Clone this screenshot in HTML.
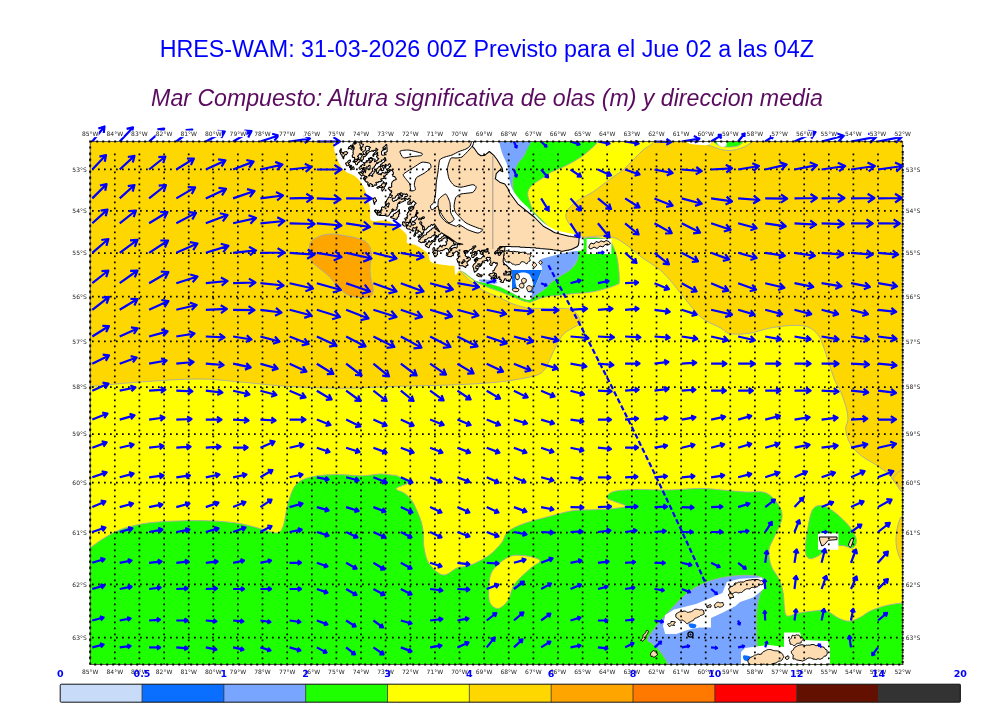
<!DOCTYPE html><html><head><meta charset="utf-8"><style>html,body{margin:0;padding:0;background:#fff;}svg{display:block}</style></head><body>
<svg width="1000" height="707" viewBox="0 0 1000 707">
<rect width="1000" height="707" fill="#fff"/>
<text x="486.8" y="56.6" text-anchor="middle" font-family="Liberation Sans, sans-serif" font-size="23.3" fill="#0000ff">HRES-WAM: 31-03-2026 00Z Previsto para el Jue 02 a las 04Z</text>
<text x="487" y="105.8" text-anchor="middle" font-family="Liberation Sans, sans-serif" font-style="italic" font-size="23.15" fill="#5a0a5f">Mar Compuesto: Altura significativa de olas (m) y direccion media</text>
<defs><clipPath id="mc"><rect x="90.2" y="141.5" width="812.5" height="523.0"/></clipPath></defs>
<g clip-path="url(#mc)">
<rect x="90.2" y="141.5" width="812.5" height="523.0" fill="#ffd700"/>
<path d="M310.5,242.4 C312.1,240.0 315.6,237.9 319.0,236.5 C322.4,235.1 326.8,234.2 331.0,234.0 C335.2,233.8 339.7,234.8 344.5,235.6 C349.3,236.4 355.9,237.6 359.8,239.0 C363.8,240.4 366.2,241.5 368.2,244.1 C370.2,246.7 371.3,250.3 371.6,254.3 C371.9,258.3 370.1,263.9 370.0,267.9 C369.9,271.8 370.2,274.3 370.8,278.0 C371.4,281.7 373.4,286.9 373.3,290.0 C373.2,293.1 372.0,295.4 370.0,296.7 C368.0,298.0 365.2,297.9 361.5,297.6 C357.8,297.3 351.9,296.9 347.9,295.0 C343.9,293.1 340.8,289.6 337.7,286.5 C334.6,283.4 332.3,279.5 329.2,276.4 C326.1,273.3 322.0,270.4 319.0,267.9 C316.0,265.3 312.9,263.9 311.4,261.1 C309.8,258.3 309.8,254.0 309.7,250.9 C309.6,247.8 308.9,244.8 310.5,242.4Z" fill="#ffa500" stroke="#a8a8a8" stroke-width="0.9"/>
<path d="M70.0,386.3 C73.4,337.4 78.5,387.0 90.2,386.3 C101.9,385.6 122.0,383.2 140.0,382.0 C158.0,380.8 181.2,379.0 198.0,379.0 C214.8,379.0 226.4,380.8 240.6,382.0 C254.8,383.2 266.4,384.9 283.0,386.0 C299.6,387.1 321.1,388.2 340.0,388.3 C358.9,388.4 377.8,386.9 396.6,386.3 C415.4,385.7 436.0,385.6 453.0,384.9 C470.0,384.2 485.2,383.4 498.4,382.0 C511.6,380.6 524.8,378.3 532.4,376.4 C540.0,374.5 540.9,373.3 543.7,370.7 C546.5,368.1 547.4,364.6 549.3,360.8 C551.2,357.0 552.6,352.5 555.0,348.0 C557.4,343.5 560.2,337.5 563.5,334.0 C566.8,330.5 572.0,328.8 574.8,326.9 C577.6,325.0 580.1,324.8 580.5,322.6 C580.9,320.5 578.9,316.3 577.0,314.0 C575.1,311.7 571.8,309.9 569.0,309.0 C566.2,308.1 565.5,308.5 560.0,308.4 C554.5,308.3 542.0,308.6 536.0,308.4 C530.0,308.2 528.0,308.0 524.0,307.2 C520.0,306.4 516.0,305.2 512.0,303.6 C508.0,302.0 504.0,299.4 500.0,297.6 C496.0,295.8 492.0,294.8 488.0,292.8 C484.0,290.8 480.5,289.1 476.0,285.6 C471.5,282.1 465.3,276.4 461.0,271.8 C456.7,267.2 453.5,263.3 450.0,258.0 C446.5,252.7 436.7,249.7 440.0,240.0 C443.3,230.3 461.7,215.0 470.0,200.0 C478.3,185.0 485.8,162.5 490.0,150.0 C494.2,137.5 470.0,129.2 495.0,125.0 C520.0,120.8 613.7,122.3 640.0,125.0 C666.3,127.7 652.5,136.8 653.0,141.0 C653.5,145.2 646.3,146.9 643.0,150.0 C639.7,153.1 636.5,156.5 633.2,159.8 C629.9,163.1 627.3,166.4 623.3,169.7 C619.3,173.0 614.3,176.0 609.4,179.6 C604.5,183.2 598.5,188.2 593.6,191.5 C588.7,194.8 583.7,196.8 579.7,199.4 C575.7,202.0 572.1,204.7 569.8,207.3 C567.5,209.9 566.0,212.5 565.8,215.2 C565.6,217.8 567.1,220.5 568.8,223.2 C570.4,225.8 573.5,228.8 575.7,231.1 C577.9,233.4 578.0,236.2 582.0,237.0 C586.0,237.8 595.4,236.0 600.0,236.0 C604.6,236.0 606.5,236.5 609.4,237.0 C612.3,237.5 614.0,237.3 617.3,239.0 C620.6,240.7 625.2,244.0 629.2,247.0 C633.2,250.0 637.0,253.8 641.0,256.8 C645.0,259.8 649.7,262.5 653.0,264.8 C656.3,267.1 658.4,268.4 661.0,270.7 C663.6,273.0 665.6,275.0 668.8,278.6 C672.0,282.2 675.6,287.0 680.0,292.4 C684.4,297.8 690.9,306.4 695.0,311.0 C699.1,315.6 700.5,317.1 704.8,320.0 C709.1,322.9 717.0,325.9 721.0,328.1 C725.0,330.4 724.6,332.6 729.1,333.5 C733.6,334.4 741.2,334.4 748.0,333.5 C754.8,332.6 762.4,329.5 769.6,328.1 C776.8,326.8 784.9,325.6 791.2,325.4 C797.5,325.2 802.9,325.2 807.4,326.8 C811.9,328.4 815.5,331.5 818.2,334.9 C820.9,338.3 821.8,342.3 823.6,347.0 C825.4,351.7 827.2,357.8 829.0,363.2 C830.8,368.6 832.4,374.4 834.4,379.4 C836.4,384.3 839.2,387.9 841.2,392.9 C843.2,397.8 845.5,404.6 846.6,409.1 C847.7,413.6 848.0,416.8 847.9,419.9 C847.8,423.0 845.7,424.9 845.7,428.0 C845.7,431.1 846.6,435.4 847.9,438.8 C849.2,442.2 850.6,445.1 853.3,448.2 C856.0,451.3 860.0,454.8 864.1,457.7 C868.2,460.6 873.6,463.1 877.6,465.8 C881.6,468.5 885.2,470.8 888.4,473.9 C891.5,477.0 894.1,481.5 896.5,484.7 C898.9,487.9 899.9,491.1 903.0,492.8 C906.1,494.5 913.0,463.8 915.0,495.0 C917.0,526.2 1055.8,649.2 915.0,680.0 C774.2,710.8 210.8,729.0 70.0,680.0 C-70.8,631.0 66.6,435.2 70.0,386.3Z" fill="#ffff00" stroke="#a8a8a8" stroke-width="0.9"/>
<path d="M903.0,517.0 C900.7,514.5 899.2,521.2 898.0,525.0 C896.8,528.8 896.0,535.3 896.0,540.0 C896.0,544.7 896.8,549.7 898.0,553.0 C899.2,556.3 900.7,562.2 903.0,560.0 C905.3,557.8 912.0,547.2 912.0,540.0 C912.0,532.8 905.3,519.5 903.0,517.0Z" fill="#ffd700" stroke="#a8a8a8" stroke-width="0.9"/>
<path d="M893.0,478.0 C892.0,480.2 895.3,481.3 897.0,483.0 C898.7,484.7 902.0,490.2 903.0,488.0 C904.0,485.8 904.7,471.7 903.0,470.0 C901.3,468.3 894.0,475.8 893.0,478.0Z" fill="#ffd700" stroke="#a8a8a8" stroke-width="0.9"/>
<path d="M70.0,560.0 C73.4,537.9 84.5,551.2 90.2,547.6 C95.9,544.0 98.5,541.4 103.9,538.2 C109.3,535.1 115.5,531.2 122.8,528.7 C130.2,526.2 138.6,524.3 148.0,523.0 C157.4,521.7 169.0,521.2 179.5,520.9 C190.0,520.5 201.6,520.5 211.0,520.9 C220.4,521.2 228.9,522.0 236.2,523.0 C243.5,524.0 249.2,525.7 255.0,527.2 C260.8,528.7 266.9,531.0 270.8,531.9 C274.8,532.8 276.6,533.5 278.7,532.5 C280.8,531.5 281.8,530.4 283.4,525.6 C285.0,520.8 286.0,510.3 288.1,503.5 C290.2,496.7 292.1,489.1 296.0,484.6 C299.9,480.2 305.0,478.5 311.8,476.8 C318.6,475.1 328.6,474.8 337.0,474.6 C345.4,474.4 355.0,475.9 362.2,475.8 C369.4,475.7 374.9,474.1 380.0,474.0 C385.1,473.9 389.7,474.9 392.6,475.2 C395.5,475.5 394.8,474.8 397.4,476.0 C400.0,477.2 408.4,480.4 408.2,482.5 C408.0,484.6 396.8,486.7 396.2,488.5 C395.6,490.3 402.0,491.3 404.6,493.3 C407.2,495.3 409.8,497.7 411.8,500.5 C413.8,503.3 415.0,506.4 416.6,510.0 C418.2,513.6 420.3,518.1 421.4,522.1 C422.5,526.1 423.0,530.1 423.4,534.1 C423.8,538.1 422.9,541.4 423.8,546.2 C424.7,551.0 425.5,558.2 428.7,563.0 C431.9,567.8 438.2,574.2 443.0,575.0 C447.8,575.8 453.0,569.4 457.5,567.8 C462.0,566.2 464.8,567.4 470.0,565.4 C475.2,563.4 483.5,559.4 488.8,555.6 C494.1,551.8 498.4,546.8 501.6,542.8 C504.8,538.8 504.3,534.8 508.0,531.6 C511.7,528.4 517.6,526.0 524.0,523.6 C530.4,521.2 538.4,519.3 546.4,517.2 C554.4,515.1 564.0,512.1 572.0,510.8 C580.0,509.6 587.6,510.1 594.6,509.7 C601.6,509.3 608.6,509.1 613.8,508.5 C619.0,507.9 625.8,507.2 625.8,506.0 C625.8,504.8 617.0,502.7 613.8,501.3 C610.6,499.9 606.6,499.2 606.6,497.6 C606.6,496.0 608.9,493.0 613.8,491.6 C618.7,490.2 627.0,489.8 636.0,489.5 C645.0,489.2 657.3,490.2 668.0,490.0 C678.7,489.8 691.0,488.4 700.0,488.4 C709.0,488.4 714.5,489.4 722.0,490.0 C729.5,490.6 737.6,491.5 745.0,492.0 C752.4,492.5 760.5,490.6 766.2,493.0 C771.9,495.4 776.6,501.7 779.2,506.1 C781.8,510.5 782.7,514.0 781.8,519.2 C780.9,524.4 776.2,532.3 774.0,537.5 C771.8,542.7 769.2,545.8 768.8,550.6 C768.4,555.4 769.7,561.5 771.4,566.3 C773.1,571.1 777.2,575.0 779.2,579.4 C781.2,583.8 782.2,587.6 783.1,592.4 C784.0,597.2 783.9,604.2 784.5,608.1 C785.1,612.0 784.8,615.1 787.0,616.0 C789.2,616.9 792.7,614.3 797.5,613.4 C802.3,612.5 811.0,611.2 815.8,610.8 C820.6,610.4 822.4,609.5 826.3,610.8 C830.2,612.1 835.5,616.9 839.4,618.6 C843.3,620.3 846.3,621.4 849.8,621.2 C853.3,621.0 856.8,619.0 860.3,617.3 C863.8,615.6 866.4,612.8 870.8,610.8 C875.1,608.8 881.0,606.8 886.4,605.5 C891.8,604.2 898.2,603.5 903.0,602.9 C907.8,602.3 913.0,589.1 915.0,602.0 C917.0,614.9 1055.8,667.0 915.0,680.0 C774.2,693.0 210.8,700.0 70.0,680.0 C-70.8,660.0 66.6,582.1 70.0,560.0Z" fill="#1eff00" stroke="#a8a8a8" stroke-width="0.9"/>
<path d="M492.0,571.6 C495.2,566.0 502.7,559.9 508.0,557.2 C513.3,554.5 518.7,555.1 524.0,555.6 C529.3,556.1 538.9,558.3 540.0,560.4 C541.1,562.5 534.7,564.4 530.4,568.4 C526.1,572.4 518.1,579.1 514.4,584.4 C510.7,589.7 510.7,596.4 508.0,600.4 C505.3,604.4 501.3,607.9 498.4,608.4 C495.5,608.9 492.0,606.5 490.4,603.6 C488.8,600.7 488.5,596.1 488.8,590.8 C489.1,585.5 488.8,577.2 492.0,571.6Z" fill="#ffff00" stroke="#a8a8a8" stroke-width="0.9"/>
<path d="M805.4,550.6 C805.2,545.4 806.7,534.0 808.0,527.0 C809.3,520.0 810.6,512.3 813.2,508.8 C815.8,505.3 819.8,505.2 823.7,506.1 C827.6,507.0 832.4,510.5 836.8,514.0 C841.1,517.5 846.5,522.6 849.8,527.0 C853.1,531.4 856.0,536.6 856.4,540.1 C856.8,543.6 854.8,547.1 852.4,548.0 C850.0,548.9 845.9,545.4 842.0,545.4 C838.1,545.4 832.8,546.3 828.9,548.0 C825.0,549.7 821.8,554.1 818.5,555.8 C815.2,557.5 811.5,559.3 809.3,558.4 C807.1,557.5 805.6,555.8 805.4,550.6Z" fill="#1eff00" stroke="#a8a8a8" stroke-width="0.9"/>
<path d="M698.0,138.0 C689.3,138.7 699.7,140.6 702.0,142.0 C704.3,143.4 707.7,145.1 712.0,146.5 C716.3,147.9 722.7,150.4 728.0,150.5 C733.3,150.6 739.7,148.8 744.0,147.0 C748.3,145.2 752.3,141.5 754.0,140.0 C755.7,138.5 763.3,138.3 754.0,138.0 C744.7,137.7 706.7,137.3 698.0,138.0Z" fill="#ffff00" stroke="#a8a8a8" stroke-width="0.9"/>
<path d="M713.0,138.0 C708.3,138.8 713.5,141.6 715.0,143.0 C716.5,144.4 718.8,145.9 722.0,146.5 C725.2,147.1 730.8,147.2 734.0,146.8 C737.2,146.4 739.5,145.5 741.0,144.0 C742.5,142.5 747.7,139.0 743.0,138.0 C738.3,137.0 717.7,137.2 713.0,138.0Z" fill="#1eff00" stroke="#a8a8a8" stroke-width="0.9"/>
<path d="M687.0,138.0 C683.0,138.8 686.2,141.9 688.0,143.0 C689.8,144.1 694.5,144.6 698.0,144.8 C701.5,145.1 706.7,145.6 709.0,144.5 C711.3,143.4 715.7,139.1 712.0,138.0 C708.3,136.9 691.0,137.2 687.0,138.0Z" fill="#fff" />
<path d="M716.0,138.0 C715.0,139.2 717.3,144.2 719.0,145.5 C720.7,146.8 725.0,147.2 726.0,146.0 C727.0,144.8 726.7,139.3 725.0,138.0 C723.3,136.7 717.0,136.8 716.0,138.0Z" fill="#fff" />
<path d="M535.0,125.0 C547.0,120.3 587.1,122.3 597.5,125.0 C607.9,127.7 598.8,136.8 597.5,141.0 C596.2,145.2 592.6,147.2 589.6,150.0 C586.6,152.8 583.7,155.2 579.7,157.8 C575.7,160.4 570.8,163.2 565.8,165.7 C560.8,168.2 553.2,171.0 550.0,172.7 C546.8,174.4 549.4,173.6 546.4,175.7 C543.4,177.8 534.9,182.4 531.8,185.4 C528.7,188.4 528.0,190.5 527.7,193.5 C527.4,196.5 529.2,200.3 530.2,203.3 C531.2,206.3 531.5,208.7 533.4,211.4 C535.3,214.1 538.5,216.6 541.5,219.6 C544.5,222.6 548.2,226.9 551.3,229.3 C554.4,231.7 560.5,232.9 560.0,234.0 C559.5,235.1 552.0,237.3 548.0,236.0 C544.0,234.7 539.8,230.0 536.0,226.0 C532.2,222.0 528.5,216.3 525.0,212.0 C521.5,207.7 517.0,203.9 515.0,200.0 C513.0,196.1 513.3,192.5 513.0,188.7 C512.7,184.9 512.3,181.4 513.0,177.3 C513.7,173.2 515.2,168.4 517.2,164.3 C519.2,160.2 522.3,159.5 525.3,152.9 C528.3,146.3 523.0,129.7 535.0,125.0Z" fill="#1eff00" stroke="#a8a8a8" stroke-width="0.9"/>
<path d="M578.0,244.0 C579.4,240.5 582.3,239.0 586.0,238.0 C589.7,237.0 596.1,237.5 600.0,238.0 C603.9,238.5 607.2,239.5 609.4,241.0 C611.6,242.5 612.1,244.0 613.4,247.0 C614.7,250.0 616.3,253.3 617.3,258.8 C618.3,264.3 619.5,275.6 619.3,280.0 C619.1,284.4 620.2,283.1 616.0,285.0 C611.8,286.9 601.3,290.1 594.0,291.6 C586.7,293.1 577.7,293.2 572.0,293.8 C566.3,294.4 564.0,294.8 560.0,295.2 C556.0,295.6 551.3,295.9 548.0,296.4 C544.7,296.9 542.3,298.1 540.0,298.0 C537.7,297.9 533.7,297.4 534.4,296.0 C535.1,294.6 541.1,292.0 544.0,289.6 C546.9,287.2 549.1,284.0 552.0,281.6 C554.9,279.2 558.4,277.3 561.6,275.2 C564.8,273.1 568.5,271.5 571.2,268.8 C573.9,266.1 576.5,263.3 577.6,259.2 C578.7,255.1 576.6,247.5 578.0,244.0Z" fill="#1eff00" stroke="#a8a8a8" stroke-width="0.9"/>
<path d="M461.0,270.6 L476.0,282.0 L488.0,287.4 L500.0,291.6 L512.0,296.4 L524.0,301.2 L530.0,302.4 L536.0,300.0 L540.0,298.0 L534.4,296.0 L531.2,298.8 L524.0,298.8 L512.0,292.8 L500.0,286.8 L488.0,283.2 L476.0,280.8 L458.0,266.0Z" fill="#1eff00" stroke="#a8a8a8" stroke-width="0.9"/>
<path d="M499.0,125.0 C505.0,121.7 530.6,120.3 535.0,125.0 C539.4,129.7 528.3,146.3 525.3,152.9 C522.3,159.5 519.2,160.2 517.2,164.3 C515.2,168.4 513.7,173.2 513.0,177.3 C512.3,181.4 512.0,184.9 513.0,188.7 C514.0,192.5 516.2,196.5 518.8,200.0 C521.4,203.5 525.6,206.5 528.5,209.8 C531.4,213.1 536.2,219.6 536.0,220.0 C535.8,220.4 531.0,215.7 527.0,212.0 C523.0,208.3 515.3,202.5 512.3,198.0 C509.3,193.5 509.8,189.7 509.0,185.0 C508.2,180.3 508.5,174.5 507.4,170.0 C506.3,165.5 503.9,162.2 502.5,158.0 C501.1,153.8 499.6,150.5 499.0,145.0 C498.4,139.5 493.0,128.3 499.0,125.0Z" fill="#78a5ff" />
<path d="M667.4,672.0 C654.6,670.6 668.5,666.7 667.4,663.4 C666.3,660.1 663.4,655.7 660.8,652.4 C658.2,649.1 654.2,645.8 652.0,643.6 C649.8,641.4 646.9,642.1 647.6,639.2 C648.3,636.3 652.7,630.8 656.4,626.0 C660.1,621.2 664.5,616.1 669.6,610.6 C674.7,605.1 681.0,597.8 687.2,593.0 C693.4,588.2 700.0,584.8 707.0,582.0 C714.0,579.2 721.7,577.6 729.0,576.5 C736.3,575.4 745.5,575.2 751.0,575.4 C756.5,575.6 759.8,576.5 762.0,577.6 C764.2,578.7 764.6,579.1 764.2,582.0 C763.8,584.9 761.0,590.8 759.8,595.2 C758.6,599.6 757.5,603.3 757.0,608.4 C756.5,613.5 756.5,620.1 756.5,626.0 C756.5,631.9 756.9,639.2 757.0,643.6 C757.1,648.0 757.6,649.5 757.0,652.4 C756.4,655.3 755.4,657.9 753.2,661.2 C751.0,664.5 758.3,670.2 744.0,672.0 C729.7,673.8 680.2,673.4 667.4,672.0Z" fill="#78a5ff" stroke="#a8a8a8" stroke-width="0.9"/>
<path d="M333.9,130.0 C306.3,131.9 333.7,137.6 333.9,141.5 C334.1,145.4 333.7,149.0 335.2,153.6 C336.7,158.2 339.5,165.3 343.0,169.2 C346.5,173.1 352.5,174.0 356.0,177.0 C359.5,180.0 361.6,183.1 363.8,187.4 C366.0,191.7 367.9,199.2 369.0,203.0 C370.1,206.8 369.8,207.5 370.2,210.4 C370.6,213.3 368.9,218.8 371.3,220.5 C373.7,222.2 381.0,219.9 384.8,220.5 C388.6,221.1 390.3,221.6 393.9,223.9 C397.5,226.2 404.0,230.9 406.2,234.1 C408.4,237.3 405.6,241.2 407.3,243.1 C409.0,245.0 412.9,243.7 416.3,245.4 C419.7,247.1 424.9,250.4 427.5,253.2 C430.1,256.0 427.9,260.3 432.0,262.4 C436.1,264.5 448.5,265.2 452.2,265.8 C455.9,266.4 453.8,264.5 454.4,266.0 C455.0,267.5 454.5,274.0 455.6,274.8 C456.7,275.6 457.6,269.6 461.0,270.6 C464.4,271.6 471.5,278.7 476.0,280.8 C480.5,282.9 484.0,282.2 488.0,283.2 C492.0,284.2 496.0,285.2 500.0,286.8 C504.0,288.4 508.0,290.8 512.0,292.8 C516.0,294.8 520.8,297.8 524.0,298.8 C527.2,299.8 529.2,301.1 531.2,298.8 C533.2,296.5 534.2,289.8 536.0,285.0 C537.8,280.2 540.0,274.5 542.0,270.0 C544.0,265.5 545.0,260.4 548.0,258.0 C551.0,255.6 555.0,256.8 560.0,255.6 C565.0,254.4 574.2,251.9 578.0,251.0 C581.8,250.1 582.1,251.8 583.0,250.0 C583.9,248.2 584.3,242.5 583.5,240.0 C582.7,237.5 580.6,236.2 578.0,235.0 C575.4,233.8 571.5,233.9 567.6,233.0 C563.7,232.1 558.7,231.3 554.6,229.6 C550.5,227.8 546.5,225.0 543.2,222.5 C539.9,220.0 537.7,217.2 535.0,214.5 C532.3,211.8 529.4,208.9 527.0,206.5 C524.6,204.1 522.9,203.2 520.4,200.3 C517.9,197.4 514.2,192.8 512.3,189.0 C510.4,185.2 509.8,181.4 509.0,177.5 C508.2,173.6 508.5,169.4 507.4,165.5 C506.3,161.6 503.9,158.1 502.5,154.1 C501.1,150.1 499.8,145.5 499.3,141.5 C498.8,137.5 526.9,131.9 499.3,130.0 C471.7,128.1 361.5,128.1 333.9,130.0Z" fill="#fff" />
<path d="M539.2,260.8 C540.9,258.5 547.7,257.3 552.0,256.0 C556.3,254.7 560.7,253.8 565.0,253.0 C569.3,252.2 575.5,250.2 577.6,251.2 C579.7,252.2 578.7,256.3 577.6,259.2 C576.5,262.1 573.9,266.1 571.2,268.8 C568.5,271.5 564.8,273.1 561.6,275.2 C558.4,277.3 554.9,279.2 552.0,281.6 C549.1,284.0 546.9,287.2 544.0,289.6 C541.1,292.0 536.5,294.5 534.4,296.0 C532.3,297.5 531.5,299.3 531.2,298.8 C530.9,298.3 530.6,297.6 532.4,292.8 C534.2,288.0 540.9,275.3 542.0,270.0 C543.1,264.7 537.5,263.1 539.2,260.8Z" fill="#78a5ff" />
<path d="M479.6,279.6 C480.9,279.3 485.2,279.5 488.0,279.8 C490.8,280.1 495.1,280.9 496.4,281.5 C497.7,282.1 497.4,283.3 496.0,283.6 C494.6,283.9 490.7,283.6 488.0,283.2 C485.3,282.8 481.4,282.1 480.0,281.5 C478.6,280.9 478.3,279.9 479.6,279.6Z" fill="#78a5ff" />
<path d="M512.0,270.0 L542.0,270.0 L532.4,292.8 L512.0,290.0Z" fill="#0a6eff" />
<path d="M517.0,274.0 C519.2,272.2 526.3,271.5 529.0,274.0 C531.7,276.5 534.3,286.0 533.0,289.0 C531.7,292.0 523.8,292.7 521.0,292.0 C518.2,291.3 516.7,288.0 516.0,285.0 C515.3,282.0 514.8,275.8 517.0,274.0Z" fill="#fff" />
<path d="M586.6,239.0 L611.4,239.0 L611.4,253.9 L586.6,253.9Z" fill="#fff" />
<path d="M503.3,282.5L502.3,282.5L500.2,281.7L501.5,280.7L500.3,279.2L500.0,279.5L499.2,279.3L499.8,278.7L499.7,276.8L498.7,276.8L498.2,278.0L497.0,278.5L496.5,278.0L496.8,276.0L496.3,275.8L496.2,278.0L495.7,278.5L494.7,278.2L493.3,278.5L492.8,278.0L494.3,277.5L495.2,276.0L496.2,275.3L496.5,274.0L496.0,273.5L495.3,273.5L494.7,272.8L494.2,273.0L494.8,274.7L493.2,275.7L492.8,277.7L491.8,278.3L492.0,279.2L491.3,279.2L490.8,278.7L491.5,278.0L490.8,276.0L489.7,275.8L488.8,275.0L489.0,274.5L489.8,274.3L490.0,273.5L492.7,273.2L493.2,272.7L492.8,270.7L494.2,270.3L495.2,267.7L497.2,265.0L497.2,263.7L497.5,263.3L496.7,262.8L495.7,263.5L495.0,262.5L493.7,262.2L491.8,264.0L492.2,265.0L491.7,265.5L490.7,265.5L489.5,264.0L490.8,262.3L490.8,261.0L489.5,259.7L490.5,258.7L490.5,258.0L489.7,257.2L489.0,257.8L487.7,257.2L486.2,258.0L486.2,258.7L488.2,260.7L487.7,261.5L486.7,260.2L482.7,261.2L482.2,261.7L482.5,263.0L481.5,263.3L481.8,264.7L480.3,266.5L479.7,266.5L479.0,267.2L477.7,266.5L477.3,265.8L476.3,265.8L475.8,267.0L475.8,268.3L476.3,268.8L477.0,268.5L478.5,268.7L477.5,269.3L477.0,270.5L474.5,272.3L473.5,268.7L473.8,268.0L472.8,267.0L472.8,266.3L473.8,264.3L475.8,262.7L475.8,261.7L477.8,260.0L477.3,259.2L475.7,259.8L475.5,261.0L475.0,261.5L474.2,260.0L477.0,257.5L478.7,258.8L481.0,258.5L483.5,255.7L483.3,254.5L481.7,254.5L481.0,253.8L480.2,253.7L480.2,252.7L480.8,251.3L479.7,251.5L479.3,250.2L478.0,250.5L476.7,251.8L474.3,251.5L472.7,253.2L471.8,253.0L472.5,250.7L473.2,250.0L473.2,249.0L474.2,248.7L474.3,247.2L475.8,247.0L475.7,245.8L473.3,246.2L472.8,246.7L473.2,247.7L472.7,248.2L472.0,248.2L471.3,249.5L470.0,249.5L467.0,253.2L465.3,252.5L464.8,251.7L466.7,251.5L467.5,251.0L467.3,250.5L465.0,250.5L463.8,251.0L463.8,252.0L465.2,253.0L464.8,253.3L465.5,254.3L465.2,255.7L466.0,256.5L466.7,256.5L467.8,257.3L466.5,258.3L468.0,258.5L468.2,257.3L468.7,256.8L470.5,258.3L470.5,259.0L469.7,260.2L468.3,260.2L468.2,261.3L467.7,261.8L467.3,261.5L466.8,261.7L467.2,263.7L468.2,265.0L467.7,265.5L466.3,265.5L465.7,267.5L462.7,265.8L461.3,265.8L461.0,265.5L460.7,265.8L459.2,265.7L459.2,264.3L458.8,264.0L459.5,262.0L459.0,261.5L458.3,262.2L457.7,262.2L457.5,260.7L456.8,259.7L457.2,258.7L458.5,258.0L458.5,256.7L458.8,256.3L457.8,256.0L457.8,254.0L459.0,254.2L459.2,253.7L458.7,252.8L457.8,252.7L457.8,252.0L457.0,251.2L456.3,251.2L453.5,253.7L453.3,255.8L453.0,255.2L452.3,255.2L451.7,256.2L450.0,256.8L449.7,256.5L448.3,256.5L446.2,255.0L448.0,254.2L448.2,253.0L448.7,252.5L450.2,252.0L448.8,251.3L448.5,249.7L448.0,249.2L446.7,248.5L445.3,248.5L444.3,249.8L443.3,249.8L442.3,250.8L442.0,250.5L440.7,250.5L440.0,251.2L438.0,250.8L437.2,252.0L437.5,254.7L436.2,255.7L436.0,256.5L435.0,256.2L433.8,255.0L433.5,253.3L432.5,252.3L433.5,251.7L432.8,249.3L433.2,248.0L433.7,247.5L434.5,247.7L434.8,248.7L434.5,249.7L436.0,250.8L437.2,250.0L437.2,248.3L438.3,248.2L440.3,245.2L440.8,245.3L440.5,246.0L442.0,247.2L442.3,245.8L443.7,245.2L444.3,245.2L445.0,245.8L446.5,244.3L446.8,243.0L446.2,242.7L445.8,241.7L446.3,241.2L447.5,241.0L447.5,240.3L446.8,239.7L447.5,238.7L447.3,238.2L444.7,237.8L443.3,238.8L442.0,239.2L441.8,240.0L442.2,240.3L441.7,240.8L440.0,240.8L439.7,241.8L439.2,241.7L438.5,240.3L438.5,239.3L441.0,238.2L442.0,236.8L442.7,236.8L443.5,236.0L443.7,235.2L444.3,235.2L452.7,241.2L453.8,242.3L453.5,243.3L454.3,244.2L455.0,243.8L456.2,244.3L454.3,245.2L452.7,245.2L449.5,248.3L450.2,249.0L450.2,250.3L451.0,250.8L451.8,250.3L451.0,248.5L452.7,248.8L453.0,247.8L454.0,247.8L455.0,247.2L456.3,248.2L457.2,247.3L457.2,245.3L457.7,244.2L462.8,244.3L458.3,243.2L457.0,243.2L449.3,237.5L441.3,232.8L440.0,234.5L438.5,235.0L438.5,236.3L437.7,237.2L437.2,237.0L437.0,235.5L436.3,235.5L435.8,236.0L436.8,237.0L435.8,238.3L435.8,239.7L434.8,240.3L435.2,241.3L434.3,241.8L433.0,241.2L431.2,244.0L430.2,244.7L429.5,246.0L429.5,247.0L428.7,247.8L426.0,246.2L425.2,245.0L426.7,244.2L427.0,244.5L427.5,244.0L427.0,243.5L426.3,243.8L426.2,243.3L428.3,242.5L428.7,240.8L429.3,240.8L429.8,242.0L430.3,242.2L431.5,241.3L431.7,240.5L433.0,240.5L433.7,239.8L434.5,239.7L435.5,238.3L435.2,238.0L435.2,236.7L435.5,236.3L435.2,236.0L435.0,233.8L434.2,234.3L433.7,235.8L432.3,235.8L431.3,237.2L430.0,237.8L428.3,237.8L427.0,239.2L425.0,239.5L424.5,241.0L426.2,241.0L424.0,242.5L423.0,241.8L422.7,242.5L421.3,242.8L418.7,241.2L418.8,240.0L420.2,239.3L420.7,237.8L421.3,237.8L422.3,236.8L423.0,236.8L423.2,235.7L423.7,235.2L426.0,234.8L426.5,234.3L426.7,232.8L429.0,231.5L430.0,230.2L431.3,229.8L432.0,228.5L434.3,227.5L435.0,226.8L435.2,229.0L435.7,229.2L436.3,228.5L436.8,229.7L438.0,230.8L439.3,231.8L439.8,231.7L434.3,223.8L432.7,225.5L432.0,224.5L431.3,224.5L430.3,226.2L429.0,226.2L425.7,229.8L424.7,229.8L424.2,230.3L423.5,232.0L423.8,233.0L422.7,232.8L422.2,235.0L421.0,236.2L419.7,236.8L418.7,238.2L417.8,236.7L419.5,236.0L418.8,235.0L420.7,234.8L421.5,234.0L421.5,233.3L420.5,232.0L420.0,231.5L418.8,231.3L418.7,230.2L417.8,230.3L418.2,232.3L417.3,233.2L416.2,233.3L415.5,234.3L415.5,235.3L414.3,236.5L413.8,236.0L413.8,235.0L414.5,234.3L414.8,233.0L415.8,232.3L415.2,231.3L415.2,230.3L416.0,229.8L416.3,230.2L416.8,230.0L416.5,228.3L417.2,227.7L417.0,226.8L416.5,227.0L416.0,228.2L415.3,227.8L414.3,228.2L413.3,227.5L412.8,228.0L412.5,230.0L413.3,230.2L413.5,231.0L412.7,231.2L411.0,229.8L410.0,229.8L409.3,228.8L408.0,229.2L406.3,227.8L406.8,226.7L406.3,225.8L404.3,226.2L402.2,224.3L402.8,224.0L402.5,222.3L403.0,221.8L403.7,221.8L404.8,223.0L405.2,221.0L406.2,220.0L406.0,219.5L405.3,219.5L404.8,219.0L404.8,218.3L406.3,217.8L407.0,218.5L407.5,218.0L407.3,217.5L406.5,217.3L407.8,216.0L406.8,214.7L407.5,214.0L407.5,212.7L408.8,212.0L408.5,211.3L409.0,210.8L411.7,210.2L413.2,209.0L413.8,208.0L413.8,206.0L414.5,205.3L414.5,204.7L416.2,203.3L413.3,200.8L412.5,202.3L411.5,203.0L411.5,203.7L411.0,204.2L409.3,203.8L409.0,204.5L408.2,204.3L407.8,204.0L407.8,202.0L408.7,201.8L409.7,200.2L410.3,200.5L410.5,199.7L409.3,198.2L408.7,198.2L408.0,199.5L407.0,199.5L406.7,198.8L406.0,198.8L404.8,198.0L404.8,196.7L405.3,196.2L407.0,196.5L407.8,195.3L406.7,193.8L405.7,194.5L403.7,193.8L403.0,194.5L402.0,193.2L401.0,192.8L399.3,193.8L398.0,193.8L397.5,194.3L397.5,195.0L395.5,196.7L395.3,197.8L394.0,198.2L392.5,198.0L392.2,199.7L393.3,201.5L394.3,201.2L395.3,200.2L396.3,200.5L397.0,199.5L397.8,199.3L398.2,198.7L397.8,198.0L398.3,197.5L399.5,198.7L399.5,197.7L398.8,197.0L399.2,196.3L398.5,195.7L399.3,194.5L400.7,194.2L400.7,195.8L401.7,195.2L402.8,195.0L402.3,196.5L400.8,197.0L401.2,199.3L402.0,199.5L403.0,198.2L404.0,198.2L404.2,199.3L405.0,199.5L405.5,200.3L405.0,200.8L404.0,200.8L403.3,201.5L401.3,202.2L400.7,202.2L400.0,201.5L399.2,202.3L400.0,203.5L399.0,203.5L398.3,202.8L398.2,203.7L397.5,204.3L397.8,206.7L396.8,207.3L397.2,208.7L395.7,210.2L394.0,210.2L392.7,208.8L391.8,209.7L392.2,211.3L390.8,212.3L388.7,215.8L387.0,216.2L385.0,215.5L379.3,215.5L379.3,214.8L380.3,214.8L380.8,214.3L381.2,213.0L380.5,212.0L380.5,210.3L381.0,209.8L382.2,210.0L381.5,209.0L381.5,207.7L382.3,206.8L384.0,207.5L385.5,205.7L385.5,204.3L385.2,204.0L385.5,202.0L386.5,201.3L386.5,200.3L387.5,199.3L388.5,197.3L389.3,196.8L390.0,197.5L391.0,197.5L392.5,195.7L390.7,194.8L390.0,195.5L389.5,195.3L390.2,193.7L391.5,192.7L391.8,191.0L391.3,190.5L390.3,191.2L389.8,190.7L389.8,189.7L388.2,188.7L389.0,187.2L390.7,187.5L391.8,186.7L391.5,185.3L391.8,184.0L391.5,183.7L392.2,182.0L394.0,180.2L395.7,179.8L396.2,179.3L396.2,178.7L395.2,177.7L394.7,176.5L392.8,176.3L392.8,175.0L392.2,174.3L393.3,174.2L393.5,173.0L392.0,169.8L390.7,170.8L390.8,169.7L389.7,169.5L389.2,171.0L389.8,171.7L389.0,171.8L388.3,172.8L387.5,172.3L387.2,170.7L388.2,170.7L387.8,169.0L389.5,167.7L389.3,166.5L390.3,166.8L390.8,166.3L389.8,163.7L389.0,163.8L388.3,165.2L387.0,165.2L385.3,164.2L385.2,165.3L385.8,166.0L385.3,168.2L384.8,168.0L384.8,166.3L383.0,165.2L381.5,166.0L382.0,166.5L382.7,166.5L382.8,167.3L383.8,168.3L383.5,168.7L383.8,170.0L383.5,170.3L381.7,170.8L381.2,170.3L381.5,169.0L380.7,168.8L378.8,171.0L378.5,172.3L378.0,172.8L377.0,172.2L376.5,173.0L377.7,173.2L378.3,174.2L379.3,174.2L380.3,173.5L380.2,174.3L380.7,174.8L381.3,174.8L381.5,173.7L382.7,172.2L384.0,173.2L387.0,172.5L387.2,174.3L386.0,174.8L385.2,175.7L385.0,176.5L383.5,176.0L384.5,178.3L384.0,178.5L383.7,178.2L382.7,178.8L381.0,178.8L380.8,179.7L381.3,180.2L382.0,180.2L382.2,180.7L380.3,181.8L378.7,181.5L378.0,182.8L377.3,182.2L376.3,182.2L375.8,182.7L376.8,184.3L376.0,185.5L375.3,184.8L374.7,184.8L373.3,186.5L372.0,186.5L371.8,186.0L372.5,185.3L372.5,184.7L370.3,183.5L368.8,184.7L369.8,185.7L369.8,186.3L368.7,186.2L367.5,184.0L368.2,182.7L367.8,182.0L366.7,181.8L366.3,182.2L363.2,178.3L365.0,176.5L364.8,179.0L365.3,179.5L365.8,179.0L365.8,178.3L367.2,177.0L366.7,176.5L365.7,176.5L365.0,175.8L364.0,175.8L363.0,174.5L361.7,176.2L358.5,172.7L359.3,172.2L360.7,172.2L362.7,173.5L363.5,173.0L363.5,172.0L361.8,171.3L361.8,170.7L362.8,169.7L362.5,168.3L361.7,168.2L360.7,169.2L359.7,169.2L358.8,168.0L361.0,165.8L361.7,165.8L362.3,164.5L363.0,164.5L364.0,165.5L364.7,165.5L364.8,164.0L363.2,162.7L363.7,162.5L364.7,163.2L365.7,162.2L367.0,162.2L367.2,161.7L366.3,161.5L366.2,161.0L366.7,160.5L368.3,160.8L368.8,160.0L368.5,158.7L369.0,158.2L369.8,158.3L369.2,159.7L370.2,160.7L370.2,161.7L369.2,162.7L370.0,162.8L371.0,162.2L371.5,161.7L371.5,160.7L372.7,160.5L372.8,160.0L371.7,158.8L370.3,158.2L370.3,157.5L371.3,157.5L373.0,158.8L374.7,159.2L375.2,159.7L374.5,161.0L374.7,161.8L376.7,160.8L378.8,158.7L378.3,158.2L378.0,158.5L376.5,156.7L376.7,155.8L377.7,155.8L378.2,155.3L377.2,154.3L377.8,152.7L377.3,152.2L376.0,154.2L374.7,154.2L373.5,155.3L373.8,156.0L373.3,156.5L372.8,155.7L373.2,154.3L377.8,149.7L376.0,148.2L376.2,149.3L375.3,150.5L374.0,150.2L373.3,151.5L372.0,150.5L371.3,151.2L369.7,151.5L368.0,153.2L366.7,153.2L365.5,152.3L366.5,152.0L366.7,150.8L368.0,150.8L368.7,150.2L369.3,150.2L369.5,149.3L368.8,148.3L370.5,147.7L369.0,146.5L366.7,146.2L365.2,147.3L365.8,149.0L364.8,151.0L363.0,151.2L362.8,152.3L363.8,153.7L363.2,154.3L364.0,154.8L366.0,153.8L367.2,154.3L364.7,156.8L363.7,156.5L363.2,157.0L363.5,159.0L362.2,160.3L362.0,161.8L361.0,160.8L359.7,160.8L359.2,161.3L359.2,162.3L357.5,163.3L357.5,164.3L357.0,164.8L356.3,164.8L355.5,164.0L355.5,163.0L355.0,162.5L352.8,161.7L354.2,161.0L353.8,160.3L354.3,159.8L354.8,160.0L355.0,161.5L356.3,161.5L358.7,159.2L360.0,159.5L360.8,158.7L360.8,157.7L362.2,155.7L362.2,155.0L361.7,153.8L359.3,153.8L359.2,154.7L357.5,156.3L357.7,156.8L358.3,156.8L358.8,157.3L358.8,158.0L356.7,159.5L354.8,159.0L354.3,157.2L352.7,157.5L352.2,157.0L352.5,156.3L352.2,155.3L353.2,154.3L353.2,153.0L352.8,152.7L353.2,152.3L353.2,150.3L352.8,150.0L354.2,149.0L353.5,148.7L354.2,148.0L354.2,147.3L353.2,146.3L353.2,145.0L352.8,144.7L353.5,142.7L354.3,142.5L354.7,141.5L355.5,141.7L355.5,142.3L354.5,143.7L354.7,144.2L356.2,143.3L356.3,141.5L357.7,141.5L358.0,142.2L359.7,142.2L360.2,142.7L359.8,145.0L360.8,146.3L360.8,147.0L360.2,147.7L360.2,148.7L361.2,149.7L361.3,150.5L362.2,149.7L361.5,148.7L361.5,147.3L362.8,146.7L362.8,145.7L363.5,144.7L363.3,144.2L361.8,144.0L361.5,143.0L361.8,142.7L361.7,141.5L370.0,141.5L370.7,142.5L372.0,141.5L374.0,141.5L374.7,142.2L375.0,141.5L386.3,141.5L386.0,135.8L472.0,135.8L472.5,146.7L474.5,148.7L478.0,153.8L481.0,155.8L485.0,155.2L489.3,151.5L494.2,155.7L497.2,159.7L502.2,168.3L502.8,171.7L499.7,170.2L496.2,173.7L495.5,178.3L495.2,178.7L499.7,182.2L504.8,184.0L508.2,189.0L509.8,193.0L517.7,203.8L534.7,217.5L543.3,226.2L550.7,230.2L553.0,231.8L555.0,232.8L569.0,236.2L570.7,236.2L571.0,236.5L576.7,237.2L577.0,237.5L578.7,236.8L579.2,237.0L578.8,243.0L578.2,245.3L577.0,246.8L570.7,249.8L569.0,249.8L568.7,250.2L567.0,250.2L562.7,251.2L560.7,251.2L560.3,250.8L552.7,249.8L552.3,249.5L539.7,248.5L539.3,248.2L536.0,248.2L535.7,247.8L530.7,247.8L530.3,247.5L525.3,247.5L525.0,247.2L520.0,247.2L519.7,246.8L511.3,246.8L511.0,246.5L499.7,246.5L500.2,247.0L497.8,248.7L497.8,250.0L495.2,251.7L494.8,253.7L495.3,254.2L496.2,253.3L496.2,252.7L497.0,252.5L497.3,253.2L498.5,253.3L498.2,255.0L499.7,255.5L500.8,254.0L500.8,253.3L498.3,252.5L497.8,252.0L497.8,250.3L499.7,249.8L499.8,248.7L500.3,248.2L502.7,246.8L505.0,246.8L504.2,254.3L503.8,254.7L503.8,257.0L503.2,259.7L503.2,262.0L504.5,263.7L503.7,263.8L503.5,264.3L504.0,264.8L504.7,264.5L506.0,264.8L511.2,270.0L511.2,271.0L510.5,271.7L511.2,271.7L510.8,276.0L511.5,276.7L511.5,278.0L510.2,280.0L510.2,280.7L509.0,281.5L507.3,280.5L506.7,280.8L506.2,280.3L506.2,279.3L505.7,278.8L504.7,278.8L504.2,280.3L503.5,281.0L503.3,282.5ZM384.5,155.0L384.8,154.7L384.2,153.0L385.3,152.2L386.3,152.2L387.2,151.3L386.7,144.5L386.0,144.5L385.5,145.7L382.8,147.7L383.2,148.0L383.0,149.8L385.3,147.5L385.8,148.0L385.5,149.3L383.0,150.2L381.5,151.7L381.5,154.0L381.8,154.7L382.3,155.2L384.5,155.0ZM351.3,149.5L350.3,148.5L349.3,148.2L348.2,149.0L348.8,147.0L349.3,146.5L350.3,146.5L350.7,145.2L351.7,145.2L352.2,145.7L351.3,147.2L352.3,146.5L353.2,146.7L352.8,147.7L351.3,149.5ZM343.7,158.8L343.2,158.7L342.8,157.3L341.8,156.0L342.2,155.0L341.2,154.7L339.8,151.7L339.8,150.3L340.8,149.3L341.0,148.5L341.5,150.0L340.8,150.7L341.2,151.3L340.8,152.0L343.0,152.5L343.2,153.0L342.8,153.3L343.3,153.8L343.8,153.7L343.5,152.7L344.7,151.8L346.0,151.8L346.3,151.5L347.8,152.7L346.3,154.8L345.7,154.5L344.8,154.7L344.5,156.0L343.5,156.7L343.8,157.3L343.7,158.8ZM372.5,176.3L372.8,176.0L372.5,174.3L374.2,172.7L374.2,171.0L375.7,170.8L376.3,171.5L376.5,170.3L375.8,169.7L376.7,168.8L377.3,168.8L378.7,166.8L379.7,166.5L380.7,167.2L380.8,166.3L380.2,165.3L380.5,164.7L382.0,163.8L383.0,162.5L384.0,162.2L384.8,161.0L384.8,160.3L385.8,159.0L385.0,157.5L384.5,157.7L384.2,159.0L382.7,160.2L381.2,160.0L381.5,160.3L381.3,161.8L380.0,161.8L378.3,162.5L377.7,163.8L377.5,162.7L376.7,162.5L376.2,164.0L375.5,164.7L375.5,165.3L374.2,166.3L374.5,167.0L373.3,168.2L372.7,168.2L372.2,168.7L372.8,171.0L371.2,172.3L371.0,173.5L369.8,173.7L369.5,174.7L368.5,175.7L369.0,176.2L370.0,175.2L371.3,175.2L372.0,176.5L372.5,176.3ZM347.7,165.8L347.0,165.8L346.5,165.3L345.5,163.3L346.7,162.8L348.7,160.5L349.3,160.5L350.0,159.8L350.5,160.3L350.5,161.0L349.8,162.3L348.5,163.0L348.5,164.0L349.5,164.3L348.7,165.5L347.7,165.8ZM354.3,169.2L352.7,169.2L351.3,168.5L349.7,167.5L349.5,166.7L350.7,165.2L351.3,165.2L351.8,166.0L350.5,167.0L352.0,168.2L353.0,166.8L353.7,166.8L354.3,169.2ZM365.5,172.7L366.0,168.8L367.3,168.8L368.7,169.5L370.2,169.0L369.8,168.3L370.2,167.0L370.0,165.2L368.7,165.5L368.5,166.3L367.7,167.2L366.7,166.8L365.7,168.2L363.7,167.5L362.8,168.3L364.5,169.3L364.8,170.3L363.8,171.0L365.5,172.7ZM382.3,191.2L381.8,190.3L381.8,188.0L382.8,187.3L382.7,186.5L381.7,187.2L379.0,187.5L378.0,188.5L376.8,187.7L378.0,186.5L379.3,186.5L380.3,185.8L381.3,185.8L381.8,184.0L382.7,183.8L383.5,183.0L383.2,182.7L383.3,181.5L384.7,183.2L385.7,183.2L386.3,182.5L386.8,183.3L385.5,185.0L385.2,186.3L383.8,187.3L384.5,188.3L382.3,191.2ZM374.3,204.5L372.8,198.3L373.7,198.5L374.3,197.8L375.3,197.8L375.5,199.0L376.5,200.0L376.5,201.0L374.8,202.3L374.8,204.0L374.3,204.5ZM388.5,207.0L388.8,204.7L389.5,204.0L388.7,202.8L387.3,204.2L386.7,203.8L386.2,204.3L386.8,206.0L388.0,207.2L388.5,207.0ZM409.3,209.8L408.5,209.0L408.5,208.0L409.7,206.8L410.7,207.2L411.3,206.2L412.3,206.2L413.2,207.0L412.7,207.8L410.7,208.2L409.3,209.8ZM396.3,219.5L390.7,217.5L390.5,217.0L392.0,216.2L393.0,216.2L393.5,215.7L393.2,214.7L394.3,213.5L395.3,213.5L396.0,212.5L396.7,212.5L399.3,209.5L399.5,210.3L399.2,210.7L399.5,211.3L399.2,212.7L399.8,213.0L399.8,213.7L398.5,214.3L398.8,216.3L397.2,217.7L397.2,218.7L396.3,219.5ZM378.0,215.5L376.5,214.0L377.2,212.7L375.5,212.7L375.2,211.3L375.3,209.8L376.7,210.2L377.2,210.7L377.3,211.8L377.8,211.7L377.5,210.7L378.3,210.2L380.2,212.0L379.7,212.8L378.3,212.5L377.8,213.0L378.0,215.5ZM408.2,225.7L407.8,224.7L409.3,222.5L411.3,222.8L411.8,223.3L411.2,224.3L411.7,225.2L412.7,224.8L413.3,225.2L414.3,224.2L415.0,224.2L415.5,223.7L415.5,223.0L415.0,222.5L414.3,222.5L413.7,221.8L412.7,222.2L412.5,221.3L414.0,221.2L414.7,220.2L415.3,220.2L417.5,217.3L417.3,216.8L415.8,216.3L416.5,215.7L416.2,214.7L418.2,213.0L417.7,212.2L416.2,212.3L416.5,213.3L415.5,214.3L415.5,215.3L414.3,217.2L411.8,217.3L411.5,219.0L410.5,219.7L410.8,220.7L410.7,221.8L409.3,221.5L409.2,222.3L408.3,222.8L407.0,222.2L406.2,222.7L405.8,224.3L406.3,224.8L407.0,224.8L407.3,225.8L408.2,225.7ZM421.2,219.7L422.3,218.2L423.7,218.5L424.5,217.7L424.2,217.0L423.3,216.8L421.0,218.2L419.3,218.2L418.5,219.0L418.7,219.8L419.0,219.5L421.2,219.7ZM421.5,225.0L421.8,222.7L421.0,221.8L420.3,221.8L419.8,222.3L419.8,223.3L421.5,225.0ZM423.8,229.7L424.5,229.0L424.2,227.0L422.0,225.2L421.8,225.7L422.5,226.0L422.8,227.3L422.5,228.0L422.8,229.7L423.8,229.7ZM482.8,252.3L483.3,251.5L484.3,251.8L485.0,251.5L486.0,252.2L487.0,251.5L487.7,251.8L488.5,251.0L487.3,251.2L486.8,250.3L488.2,249.3L488.2,248.7L487.0,248.5L484.7,250.8L482.0,250.2L481.5,250.7L481.5,251.3L482.3,252.5L482.8,252.3ZM501.5,252.7L503.5,251.0L503.0,250.5L500.2,250.7L499.8,252.3L501.0,252.2L501.5,252.7ZM473.7,257.5L472.3,257.5L471.8,257.0L471.5,255.0L475.0,254.5L474.5,253.0L475.3,252.8L476.2,253.3L476.8,254.7L476.0,255.5L474.7,255.8L473.8,256.7L473.7,257.5ZM462.2,263.7L464.0,261.8L464.7,261.8L465.2,261.3L464.3,259.8L463.3,259.8L462.8,261.7L461.8,262.3L461.5,263.3L462.2,263.7ZM479.5,265.3L480.5,265.0L480.0,263.8L477.5,264.0L479.0,265.5L479.5,265.3ZM508.5,275.0L509.7,274.8L510.2,273.7L510.2,272.0L509.3,271.5L507.7,272.2L506.7,271.8L505.7,270.8L505.2,271.7L506.5,272.3L506.5,273.3L503.5,273.3L504.0,275.2L504.7,274.8L508.5,275.0ZM481.3,276.8L478.7,276.5L476.5,275.0L478.0,273.5L479.7,274.2L480.2,274.7L479.8,275.0L480.0,275.5L482.0,274.8L482.2,275.7L481.3,276.8Z" fill="#fcdcb0" fill-rule="evenodd" stroke="#000" stroke-width="1.05" stroke-linejoin="round"/>
<path d="M400.0,151.2 C400.6,150.4 406.6,149.9 408.8,150.1 C411.0,150.3 420.8,152.8 422.0,153.4 C423.2,154.0 422.0,155.3 420.9,155.6 C419.8,155.9 412.8,156.5 411.0,156.7 C409.2,156.9 404.4,158.4 403.3,157.8 C402.2,157.2 399.4,152.0 400.0,151.2Z" fill="#fff" stroke="#000" stroke-width="1" stroke-linejoin="round"/>
<path d="M403.3,174.3 C404.0,173.1 411.3,168.9 413.2,167.7 C415.1,166.5 420.4,162.6 422.0,162.2 C423.6,161.8 428.8,162.8 429.7,163.3 C430.6,163.9 431.4,166.7 430.8,167.7 C430.2,168.7 425.6,172.2 424.2,173.2 C422.8,174.2 417.5,176.5 416.5,177.6 C415.5,178.7 414.4,183.0 414.3,184.2 C414.2,185.4 415.7,189.0 415.4,189.7 C415.1,190.4 411.6,191.4 411.0,190.8 C410.4,190.2 410.3,185.3 409.9,184.2 C409.5,183.1 407.3,180.8 406.6,179.8 C405.9,178.8 402.6,175.5 403.3,174.3Z" fill="#fff" stroke="#000" stroke-width="1" stroke-linejoin="round"/>
<path d="M471.6,138.0 C471.4,138.3 471.8,140.7 471.6,141.5 C471.4,142.3 470.6,145.2 470.0,146.0 C469.4,146.8 467.1,148.4 466.0,149.0 C464.9,149.6 460.4,150.9 459.0,151.5 C457.6,152.1 453.4,154.4 452.0,155.0 C450.6,155.6 446.2,156.5 445.0,157.0 C443.8,157.5 440.4,158.5 439.7,160.0 C439.0,161.5 438.3,169.8 438.0,172.0 C437.7,174.2 436.6,179.9 436.3,182.1 C436.1,184.3 435.8,192.0 435.5,194.0 C435.2,196.0 434.3,201.3 433.8,202.5 C433.3,203.7 430.6,205.2 430.4,205.9 C430.2,206.7 431.2,210.0 432.0,210.0 C432.8,210.0 437.2,205.5 438.0,206.0 C438.8,206.5 439.2,213.4 440.0,215.0 C440.8,216.6 444.4,220.9 446.0,222.0 C447.6,223.1 454.5,226.0 455.8,226.3 C457.1,226.6 458.0,224.3 459.2,224.6 C460.4,224.9 465.8,228.8 467.7,229.7 C469.6,230.5 476.4,233.1 477.9,233.1 C479.4,233.1 483.0,230.2 483.0,229.7 C483.0,229.2 479.6,228.7 477.9,228.0 C476.2,227.3 468.2,224.4 466.0,222.9 C463.8,221.4 457.0,214.4 455.8,212.7 C454.6,211.0 454.1,207.4 454.1,205.9 C454.1,204.4 455.1,198.6 455.8,197.4 C456.5,196.2 459.3,194.5 461.0,194.0 C462.7,193.5 471.3,193.0 472.8,192.3 C474.3,191.6 476.2,188.0 476.2,187.2 C476.2,186.4 474.3,184.7 472.8,184.7 C471.3,184.7 462.9,187.1 461.0,187.2 C459.1,187.3 455.3,186.3 454.1,185.5 C452.9,184.7 449.7,180.4 449.0,178.7 C448.3,177.0 447.2,170.6 447.4,168.6 C447.6,166.6 449.8,159.5 450.7,158.4 C451.6,157.3 454.9,158.1 456.0,158.0 C457.1,157.9 460.7,157.8 462.0,157.0 C463.3,156.2 467.9,151.2 469.0,150.0 C470.1,148.8 472.5,146.2 473.0,145.0 C473.5,143.8 474.1,138.7 474.0,138.0 C473.9,137.3 471.8,137.7 471.6,138.0Z" fill="#fff" stroke="#000" stroke-width="1" stroke-linejoin="round"/>
<path d="M438.9,199.1 C439.7,197.9 444.6,193.7 445.7,194.0 C446.8,194.3 449.4,200.6 449.9,202.5 C450.4,204.4 450.3,211.0 450.7,212.7 C451.1,214.4 454.3,218.5 454.1,219.5 C453.9,220.5 450.0,223.1 449.0,222.9 C448.0,222.7 444.9,219.0 444.0,217.8 C443.1,216.6 440.3,212.2 439.7,211.0 C439.1,209.8 438.1,207.1 438.0,205.9 C437.9,204.7 438.1,200.3 438.9,199.1Z" fill="#fcdcb0" stroke="#000" stroke-width="1" stroke-linejoin="round"/>
<path d="M589.0,246.0 L591.0,243.0 L594.0,244.0 L596.0,241.5 L599.0,242.5 L601.0,240.8 L604.0,242.0 L606.0,240.5 L609.0,241.5 L610.5,243.5 L608.0,245.0 L605.0,244.5 L603.0,247.0 L600.0,246.0 L597.0,248.5 L594.0,247.0 L591.0,249.0 L589.0,248.0Z" fill="#fcdcb0" stroke="#000" stroke-width="1" stroke-linejoin="round"/>
<path d="M504.0,251.0 L505.4,251.1 L506.8,250.7 L508.1,251.2 L509.5,251.5 L510.9,251.6 L512.2,251.5 L513.6,251.3 L515.0,251.5 L516.3,251.8 L517.5,251.6 L518.7,252.0 L520.0,252.3 L521.2,252.5 L522.5,252.2 L523.8,252.3 L525.0,252.0 L525.7,252.5 L526.3,253.1 L527.0,253.6 L527.7,254.1 L528.6,253.9 L529.5,254.0 L530.3,254.4 L531.0,255.0 L530.9,255.8 L530.5,256.6 L530.0,257.2 L529.5,257.8 L529.7,258.6 L530.0,259.4 L530.2,260.2 L530.0,261.0 L528.9,261.3 L528.1,262.1 L527.4,262.9 L527.0,264.0 L526.2,263.6 L525.4,263.3 L524.8,262.7 L524.3,262.0 L523.5,261.9 L522.7,261.7 L521.8,261.7 L521.0,262.0 L520.7,262.7 L520.4,263.5 L519.8,264.0 L519.1,264.5 L518.3,264.5 L517.5,264.6 L516.7,264.7 L516.0,265.0 L515.3,265.1 L514.6,264.9 L514.1,264.4 L513.5,264.1 L512.7,264.2 L512.0,264.0 L511.6,263.4 L511.0,263.0 L510.6,262.4 L510.1,261.9 L509.3,261.8 L508.7,261.5 L508.0,261.7 L507.4,262.0 L506.7,262.0 L506.0,262.0 L505.6,261.4 L505.1,260.8 L504.8,260.1 L504.8,259.3 L504.4,258.6 L504.3,257.8 L503.6,257.5 L503.0,257.0 L503.7,256.5 L504.1,255.8 L504.2,254.9 L504.4,254.2 L504.3,253.4 L504.0,252.6 L504.1,251.8Z" fill="#fcdcb0" stroke="#000" stroke-width="1" stroke-linejoin="round"/>
<path d="M532.2,265.0 C532.2,264.5 534.0,262.6 534.5,262.6 C535.0,262.6 536.8,264.5 536.8,265.0 C536.8,265.5 535.0,267.4 534.5,267.4 C534.0,267.4 532.2,265.5 532.2,265.0Z" fill="#fcdcb0" stroke="#000" stroke-width="1" stroke-linejoin="round"/>
<path d="M538.8,262.5 C538.8,262.1 540.2,260.6 540.5,260.6 C540.8,260.6 542.2,262.1 542.2,262.5 C542.2,262.9 540.8,264.4 540.5,264.4 C540.2,264.4 538.8,262.9 538.8,262.5Z" fill="#fcdcb0" stroke="#000" stroke-width="1" stroke-linejoin="round"/>
<path d="M515.2,276.0 C515.2,275.5 516.2,273.9 516.5,273.8 C516.8,273.7 518.3,274.1 518.6,274.5 C518.9,274.9 519.5,277.0 519.4,277.5 C519.3,278.0 518.3,279.7 518.0,279.8 C517.7,279.9 516.3,279.4 516.0,279.0 C515.7,278.6 515.2,276.5 515.2,276.0Z" fill="#fcdcb0" stroke="#000" stroke-width="1" stroke-linejoin="round"/>
<path d="M521.4,280.0 C521.5,279.5 523.0,278.2 523.5,278.2 C524.0,278.1 526.2,279.1 526.4,279.5 C526.6,279.9 526.0,282.2 525.6,282.6 C525.2,283.0 523.0,283.5 522.6,283.2 C522.2,282.9 521.3,280.5 521.4,280.0Z" fill="#fcdcb0" stroke="#000" stroke-width="1" stroke-linejoin="round"/>
<path d="M519.2,285.0 C519.3,284.6 521.0,283.3 521.5,283.3 C522.0,283.3 523.8,284.2 524.0,284.6 C524.2,285.1 523.8,287.5 523.4,287.8 C523.0,288.1 520.6,287.9 520.2,287.6 C519.8,287.3 519.1,285.4 519.2,285.0Z" fill="#fcdcb0" stroke="#000" stroke-width="1" stroke-linejoin="round"/>
<path d="M526.6,287.4 C526.7,286.8 528.4,285.6 529.0,285.6 C529.6,285.6 531.9,286.7 532.2,287.2 C532.5,287.7 532.0,290.4 531.6,290.8 C531.2,291.2 528.5,291.7 528.0,291.4 C527.5,291.1 526.5,288.0 526.6,287.4Z" fill="#fcdcb0" stroke="#000" stroke-width="1" stroke-linejoin="round"/>
<path d="M512.4,289.4 C512.5,289.0 514.4,288.0 515.0,288.0 C515.6,288.0 518.5,288.7 518.8,289.0 C519.1,289.3 518.5,291.1 518.0,291.4 C517.5,291.7 514.6,291.8 514.0,291.6 C513.4,291.4 512.3,289.8 512.4,289.4Z" fill="#fcdcb0" stroke="#000" stroke-width="1" stroke-linejoin="round"/>
<path d="M663.0,626.0 L665.2,615.0 L674.0,609.5 L696.0,604.0 L707.0,599.6 L722.4,593.0 L726.8,582.0 L740.0,578.7 L762.0,577.6 L764.2,588.6 L753.2,597.4 L740.0,602.0 L735.6,606.0 L722.4,612.8 L711.0,618.0 L711.0,627.5 L699.0,627.5 L687.2,630.0 L676.2,634.0 L665.2,634.0Z" fill="#fff" />
<path d="M818.0,533.3 L838.4,533.3 L838.4,549.8 L818.0,549.8Z" fill="#fff" />
<path d="M741.0,652.0 L745.0,648.0 L760.0,646.0 L770.0,645.0 L784.0,647.0 L786.0,664.5 L741.0,664.5Z" fill="#fff" />
<path d="M784.0,632.6 L800.0,632.6 L802.0,640.0 L828.0,641.0 L830.0,648.0 L830.0,664.5 L784.0,664.5Z" fill="#fff" />
<path d="M689.0,623.6 C690.0,623.1 695.0,623.8 696.0,624.5 C697.0,625.2 696.0,627.5 695.0,628.0 C694.0,628.5 691.0,628.2 690.0,627.5 C689.0,626.8 688.0,624.1 689.0,623.6Z" fill="#0a6eff" />
<path d="M743.6,655.5 C744.7,655.0 749.6,656.1 750.5,657.0 C751.4,657.9 750.1,660.5 749.0,661.0 C747.9,661.5 744.9,660.9 744.0,660.0 C743.1,659.1 742.5,656.0 743.6,655.5Z" fill="#0a6eff" />
<path d="M729.0,588.0 L730.0,587.6 L730.7,586.9 L731.6,586.4 L732.7,586.3 L733.3,585.5 L734.0,584.7 L734.6,583.9 L735.0,583.0 L735.9,582.9 L736.9,583.1 L737.7,582.7 L738.4,582.1 L739.4,582.2 L740.2,581.9 L741.1,582.0 L742.0,582.0 L743.1,582.1 L744.2,581.9 L744.9,581.1 L745.9,580.7 L746.9,580.5 L748.0,580.4 L749.0,580.0 L750.0,580.0 L751.0,580.0 L752.0,579.6 L753.0,579.6 L754.0,579.8 L755.0,579.6 L756.0,579.4 L757.0,579.7 L758.0,579.5 L758.6,579.8 L759.3,579.9 L759.7,580.5 L760.3,580.9 L761.0,580.7 L761.7,580.5 L762.3,580.8 L763.0,581.0 L763.5,582.1 L763.4,583.2 L762.6,584.0 L762.0,585.0 L761.2,584.7 L760.3,584.6 L759.6,585.0 L758.8,585.4 L758.3,586.1 L757.6,586.6 L756.8,586.8 L756.0,587.0 L755.3,587.5 L754.4,587.7 L753.6,587.5 L752.8,587.3 L751.9,587.3 L751.1,587.7 L750.4,588.2 L750.0,589.0 L749.2,588.9 L748.4,588.8 L747.6,588.7 L746.9,588.6 L746.2,589.1 L745.5,589.4 L744.8,589.8 L744.0,590.0 L743.6,590.8 L743.0,591.5 L742.2,591.9 L741.5,592.5 L740.6,592.4 L739.7,592.6 L738.9,592.9 L738.0,593.0 L737.3,592.6 L736.5,592.3 L735.6,592.3 L734.8,592.4 L734.1,592.8 L733.4,593.3 L732.7,593.6 L732.0,594.0 L731.4,593.3 L730.7,592.8 L730.1,592.1 L729.6,591.4 L729.3,590.6 L728.8,589.8 L728.8,588.9Z" fill="#fcdcb0" stroke="#000" stroke-width="1" stroke-linejoin="round"/>
<path d="M714.0,605.0 L714.6,604.7 L715.0,604.3 L715.5,603.9 L716.0,603.5 L716.4,603.0 L716.7,602.4 L717.4,602.3 L718.0,602.0 L718.6,602.3 L719.2,602.5 L719.8,602.8 L720.4,602.9 L721.1,602.8 L721.7,602.5 L722.3,602.5 L723.0,602.5 L723.0,603.2 L723.2,603.9 L723.6,604.4 L724.0,605.0 L723.5,605.3 L722.9,605.6 L722.7,606.2 L722.3,606.7 L721.7,606.7 L721.1,607.0 L720.5,607.1 L720.0,607.5 L719.4,607.2 L718.8,606.8 L718.1,606.7 L717.4,606.7 L716.8,607.0 L716.3,607.5 L715.6,607.7 L715.0,608.0 L715.0,607.2 L714.8,606.4 L714.5,605.6Z" fill="#fcdcb0" stroke="#000" stroke-width="1" stroke-linejoin="round"/>
<path d="M676.0,614.0 L676.9,613.3 L677.8,612.8 L678.8,612.2 L679.7,611.8 L680.8,611.5 L681.9,611.6 L683.0,611.4 L684.0,611.0 L684.8,611.1 L685.6,611.3 L686.3,611.6 L686.9,612.2 L687.7,612.3 L688.5,612.3 L689.2,612.0 L690.0,612.0 L690.8,611.8 L691.6,611.5 L692.3,611.0 L693.1,610.7 L693.7,610.0 L694.3,609.4 L695.2,609.3 L696.0,609.0 L696.8,609.3 L697.7,609.4 L698.6,609.6 L699.4,609.9 L700.4,609.9 L701.2,609.6 L702.1,609.9 L703.0,610.0 L703.7,610.9 L703.7,612.0 L704.1,612.9 L704.0,614.0 L703.3,614.5 L702.5,614.8 L701.7,615.2 L700.9,615.2 L700.2,615.8 L699.6,616.4 L698.8,616.7 L698.0,617.0 L697.1,617.4 L696.5,618.1 L695.5,618.1 L694.6,618.5 L694.1,619.3 L693.7,620.2 L692.9,620.6 L692.0,621.0 L691.3,621.2 L690.7,621.6 L690.1,622.1 L689.3,622.2 L688.9,622.8 L688.2,623.2 L687.6,623.6 L687.0,624.0 L686.5,623.3 L686.0,622.7 L685.3,622.2 L684.8,621.6 L684.2,621.1 L683.5,620.7 L682.8,620.2 L682.0,620.0 L681.3,620.2 L680.5,620.3 L679.8,620.2 L679.1,620.1 L678.6,619.4 L678.3,618.7 L677.6,618.4 L677.0,618.0 L676.0,617.3 L675.7,616.2 L675.8,615.1Z" fill="#fcdcb0" stroke="#000" stroke-width="1" stroke-linejoin="round"/>
<path d="M667.5,624.0 L668.1,623.8 L668.7,623.6 L669.3,623.6 L669.9,623.7 L670.3,623.2 L670.8,622.8 L671.0,622.1 L671.0,621.5 L672.1,621.5 L673.3,621.5 L674.4,621.7 L675.5,622.0 L674.9,622.8 L674.0,623.5 L673.9,624.6 L674.5,625.5 L673.8,625.3 L673.0,625.3 L672.3,625.3 L671.6,625.0 L671.0,625.5 L670.4,626.0 L669.7,626.3 L669.0,626.5 L668.7,625.8 L668.4,625.2 L667.8,624.7Z" fill="#fcdcb0" stroke="#000" stroke-width="1" stroke-linejoin="round"/>
<path d="M640.5,640.5 L640.9,639.8 L641.4,639.2 L642.0,638.6 L642.7,638.2 L642.8,637.4 L643.0,636.6 L643.0,635.8 L643.0,635.0 L643.5,634.5 L644.1,634.1 L644.8,633.7 L645.3,633.2 L645.7,632.5 L646.0,631.9 L646.1,631.2 L646.5,630.5 L647.6,630.4 L648.5,631.0 L648.3,631.7 L648.0,632.3 L647.9,633.1 L647.7,633.7 L647.1,634.1 L646.7,634.7 L646.2,635.3 L646.0,636.0 L645.9,636.9 L645.9,637.7 L645.6,638.6 L644.9,639.2 L644.2,639.6 L643.5,640.1 L643.0,640.8 L642.5,641.5 L642.1,641.0 L641.8,640.4 L641.1,640.4Z" fill="#fcdcb0" stroke="#000" stroke-width="1" stroke-linejoin="round"/>
<path d="M650.5,653.0 L651.1,652.4 L651.9,651.9 L652.6,651.3 L653.0,650.5 L653.9,650.7 L654.7,651.2 L655.6,651.0 L656.5,651.0 L656.3,652.1 L656.7,653.1 L657.4,653.9 L657.5,655.0 L656.5,655.4 L655.8,656.3 L654.8,656.8 L654.0,657.5 L653.3,656.9 L652.7,656.3 L651.9,656.5 L651.0,656.5 L650.9,655.6 L650.5,654.8 L650.8,653.9Z" fill="#fcdcb0" stroke="#000" stroke-width="1" stroke-linejoin="round"/>
<path d="M728.0,595.0 L728.8,594.2 L729.8,593.7 L730.9,593.6 L732.0,594.0 L732.5,594.8 L733.0,595.5 L733.3,596.3 L734.0,597.0 L733.0,597.5 L732.0,597.4 L731.0,597.9 L730.0,598.0 L729.7,597.1 L729.0,596.5 L728.7,595.6Z" fill="#fcdcb0" stroke="#000" stroke-width="1" stroke-linejoin="round"/>
<path d="M706.0,606.0 L707.1,606.2 L708.1,605.6 L709.1,605.2 L710.0,604.5 L710.8,604.8 L711.2,605.5 L710.9,606.2 L711.0,607.0 L709.9,607.2 L708.9,607.0 L707.9,607.4 L707.0,608.0 L707.2,607.4 L707.1,606.7 L706.6,606.3Z" fill="#fcdcb0" stroke="#000" stroke-width="1" stroke-linejoin="round"/>
<path d="M748.0,662.0 L747.9,661.1 L748.0,660.2 L748.7,659.6 L749.2,658.9 L749.7,658.1 L750.3,657.4 L751.1,657.0 L752.0,657.0 L752.7,656.4 L753.4,656.1 L754.1,655.5 L754.7,655.0 L755.6,655.0 L756.5,654.8 L757.2,654.3 L758.0,654.0 L759.0,654.3 L760.0,654.4 L761.0,654.1 L762.0,653.6 L762.3,652.6 L763.1,651.8 L764.1,651.5 L765.0,651.0 L765.7,650.4 L766.6,650.2 L767.4,649.7 L768.4,649.5 L769.3,649.5 L770.2,649.5 L771.1,649.6 L772.0,650.0 L772.8,650.4 L773.7,650.5 L774.6,650.7 L775.5,650.8 L776.3,650.8 L777.2,650.9 L778.1,651.1 L779.0,651.0 L779.5,651.6 L779.7,652.3 L780.4,652.7 L781.2,652.8 L781.8,653.2 L782.2,653.8 L782.7,654.3 L783.0,655.0 L783.2,655.7 L783.7,656.3 L783.5,657.0 L783.4,657.7 L783.0,658.3 L782.5,658.7 L782.4,659.4 L782.0,660.0 L781.2,660.4 L780.6,661.1 L779.7,661.1 L778.8,661.2 L778.0,661.4 L777.3,661.9 L776.8,662.6 L776.0,663.0 L774.0,663.4 L772.1,664.0 L770.1,664.7 L768.1,665.0 L766.1,664.8 L764.1,664.1 L762.1,664.5 L760.0,664.5 L758.7,664.7 L757.5,665.0 L756.3,665.4 L755.0,665.6 L753.8,665.3 L752.5,664.9 L751.2,664.9 L750.0,664.5 L749.3,664.1 L748.8,663.4 L748.4,662.7Z" fill="#fcdcb0" stroke="#000" stroke-width="1" stroke-linejoin="round"/>
<path d="M789.0,640.0 L789.6,639.6 L790.2,639.2 L790.7,638.7 L791.3,638.3 L791.5,637.5 L791.9,637.0 L791.8,636.2 L792.0,635.5 L792.8,635.3 L793.5,635.4 L794.3,635.5 L795.0,635.7 L795.7,635.2 L796.4,634.8 L797.2,635.1 L798.0,635.0 L798.8,635.2 L799.5,635.7 L799.9,636.4 L800.1,637.2 L800.8,637.2 L801.6,637.2 L802.4,637.5 L803.0,638.0 L803.1,638.7 L803.1,639.4 L802.7,640.1 L802.2,640.6 L801.7,641.1 L801.2,641.6 L801.3,642.3 L801.0,643.0 L800.1,642.9 L799.3,643.2 L798.5,643.3 L797.6,643.3 L796.8,643.6 L796.1,644.1 L795.5,644.8 L795.0,645.5 L794.3,645.5 L793.6,645.6 L793.0,645.2 L792.5,644.7 L791.9,644.4 L791.2,644.4 L790.6,644.3 L790.0,644.0 L790.2,642.9 L789.8,641.9 L789.5,640.9Z" fill="#fcdcb0" stroke="#000" stroke-width="1" stroke-linejoin="round"/>
<path d="M791.0,652.0 L791.4,651.3 L792.1,650.8 L792.6,650.1 L793.4,649.8 L793.8,649.1 L794.0,648.3 L794.5,647.6 L795.0,647.0 L796.0,646.8 L796.9,646.2 L797.8,645.6 L798.9,645.4 L799.8,645.0 L800.9,644.9 L802.0,644.7 L803.0,645.0 L804.1,645.2 L805.2,645.5 L806.4,645.1 L807.5,645.2 L808.7,645.1 L809.8,645.2 L810.9,644.8 L812.0,644.5 L813.1,644.5 L814.1,644.7 L815.1,645.1 L815.9,645.9 L816.9,645.5 L818.0,645.5 L818.9,646.0 L820.0,646.0 L821.0,646.3 L821.9,646.9 L822.9,647.0 L824.0,647.2 L824.5,648.1 L825.0,649.1 L826.0,649.6 L827.0,650.0 L827.2,650.8 L827.0,651.6 L827.2,652.3 L827.3,653.1 L827.2,653.9 L826.7,654.6 L826.4,655.3 L826.0,656.0 L824.8,656.1 L823.7,656.6 L823.0,657.5 L822.4,658.5 L821.2,658.7 L820.2,659.3 L819.0,659.1 L818.0,658.5 L816.9,659.3 L815.6,659.5 L814.3,659.2 L813.0,659.0 L811.8,658.5 L810.6,658.0 L809.3,658.0 L808.0,658.0 L807.2,658.7 L806.3,659.3 L805.3,659.8 L804.4,660.4 L803.2,660.7 L802.2,661.2 L801.2,660.6 L800.0,660.5 L799.1,660.4 L798.2,660.2 L797.3,660.1 L796.4,660.0 L795.8,659.3 L794.9,658.8 L794.0,659.0 L793.0,659.0 L792.9,658.0 L793.2,657.1 L793.1,656.1 L793.3,655.1 L792.5,654.6 L791.9,653.7 L791.6,652.8Z" fill="#fcdcb0" stroke="#000" stroke-width="1" stroke-linejoin="round"/>
<path d="M785.5,657.0 L786.3,656.7 L787.1,656.8 L787.3,656.0 L788.0,655.5 L788.4,656.0 L788.8,656.6 L788.9,657.3 L789.0,658.0 L788.5,658.8 L787.8,659.3 L786.8,659.5 L786.0,659.0 L785.2,658.1Z" fill="#fcdcb0" stroke="#000" stroke-width="1" stroke-linejoin="round"/>
<path d="M819.3,537.0 L837.0,537.0 L837.0,539.6 L828.2,540.3 L824.4,544.7 L821.8,546.0 L819.9,540.9Z" fill="#fcdcb0" stroke="#000" stroke-width="1" stroke-linejoin="round"/>
<path d="M851.0,539.0 C851.5,538.3 853.5,538.0 853.6,538.4 C853.8,538.8 852.8,542.1 852.5,543.0 C852.2,543.9 850.9,547.1 850.5,547.3 C850.1,547.5 848.5,545.8 848.5,545.0 C848.5,544.2 850.5,539.7 851.0,539.0Z" fill="#fcdcb0" stroke="#000" stroke-width="1" stroke-linejoin="round"/>
<circle cx="690.5" cy="634.5" r="2.6" fill="none" stroke="#000" stroke-width="1.3"/><circle cx="690.5" cy="634.5" r="1" fill="#000"/>
</g>
<path d="M902.7,153.55V664.5M878.0,153.55V664.5M853.4,153.55V664.5M828.8,153.55V664.5M804.2,153.55V664.5M779.6,153.55V664.5M754.9,153.55V664.5M730.3,153.55V664.5M705.7,153.55V664.5M681.1,153.55V664.5M656.5,153.55V664.5M631.8,153.55V664.5M607.2,153.55V664.5M582.6,153.55V664.5M558.0,153.55V664.5M533.4,153.55V664.5M508.7,153.55V664.5M484.1,153.55V664.5M459.5,153.55V664.5M434.9,153.55V664.5M410.3,153.55V664.5M385.6,153.55V664.5M361.0,153.55V664.5M336.4,153.55V664.5M311.8,153.55V664.5M287.2,153.55V664.5M262.5,153.55V664.5M237.9,153.55V664.5M213.3,153.55V664.5M188.7,153.55V664.5M164.1,153.55V664.5M139.4,153.55V664.5M114.8,153.55V664.5M90.2,153.55V664.5M92.0,169.4H902.7M92.0,210.8H902.7M92.0,253.2H902.7M92.0,296.7H902.7M92.0,341.3H902.7M92.0,387.1H902.7M92.0,434.2H902.7M92.0,482.7H902.7M92.0,532.7H902.7M92.0,584.3H902.7M92.0,637.7H902.7" stroke="#000" stroke-width="1.7" stroke-dasharray="1.7 4.3" fill="none"/>
<path d="M548.4,265.2 Q634.3,424.9 706.2,584.6" stroke="#0000ff" stroke-width="2.2" stroke-dasharray="5.3 2.6" fill="none" clip-path="url(#mc)"/>
<path d="M492.8,156V249" stroke="#8a8a8a" stroke-width="0.8" fill="none"/>
<path d="M92.3,141.5L104.5,126.5M98.3,128.5L104.5,126.5L103.8,133.0M119.7,141.5L133.0,127.4M126.6,128.9L133.0,127.4L131.8,133.9M149.1,141.5L164.1,128.5M157.4,129.4L164.1,128.5L162.2,135.0M176.3,141.5L192.3,129.5M185.6,130.0L192.3,129.5L190.0,135.9M205.8,141.5L224.8,131.5M217.5,130.8L224.8,131.5L221.2,137.9M233.1,141.5L251.5,131.0M244.3,130.6L251.5,131.0L248.2,137.4M260.4,141.5L278.5,135.5M272.2,133.8L278.5,135.5L274.4,140.6M289.6,141.5L310.0,138.5M303.6,135.6L310.0,138.5L304.8,143.1M316.8,141.5L340.0,141.5M333.4,137.2L340.0,141.5L333.4,145.8M92.3,169.5L106.0,155.0M99.4,156.6L106.0,155.0L104.8,161.7M119.7,169.5L134.5,155.9M127.8,157.0L134.5,155.9L132.8,162.5M149.1,169.5L165.4,156.5M158.3,157.2L165.4,156.5L163.2,163.2M176.3,169.5L193.9,158.6M186.9,158.5L193.9,158.6L190.9,165.0M205.8,169.5L225.4,160.4M218.1,159.4L225.4,160.4L221.5,166.6M233.1,169.5L253.6,161.6M246.3,160.0L253.6,161.6L249.2,167.7M260.4,169.5L282.4,164.6M275.2,161.9L282.4,164.6L277.0,170.1M289.6,169.5L311.5,167.0M304.8,163.7L311.5,167.0L305.7,171.8M316.8,169.5L341.5,169.4M334.4,164.8L341.5,169.4L334.5,174.0M92.3,198.4L106.6,184.1M99.9,185.5L106.6,184.1L105.2,190.8M119.7,198.4L134.5,185.0M127.8,186.1L134.5,185.0L132.7,191.6M149.1,198.4L166.0,185.0M158.7,185.7L166.0,185.0L163.7,192.0M176.3,198.4L195.1,187.4M187.7,187.1L195.1,187.4L191.8,194.0M205.8,198.4L226.0,188.9M218.5,187.9L226.0,188.9L222.0,195.4M233.1,198.4L254.5,191.0M247.0,189.1L254.5,191.0L249.8,197.1M260.4,198.4L283.0,195.5M276.0,192.1L283.0,195.5L277.1,200.5M289.6,198.4L313.0,197.9M306.3,193.7L313.0,197.9L306.4,202.4M316.8,198.4L340.6,199.4M334.0,194.7L340.6,199.4L333.6,203.5M346.1,198.4L371.5,198.5M364.3,193.8L371.5,198.5L364.3,203.2M92.3,223.3L107.5,209.6M100.6,210.7L107.5,209.6L105.7,216.3M119.7,223.3L136.0,210.5M129.0,211.1L136.0,210.5L133.7,217.2M149.1,223.3L167.5,212.0M160.2,211.8L167.5,212.0L164.3,218.6M176.3,223.3L196.0,212.9M188.5,212.2L196.0,212.9L192.3,219.5M205.8,223.3L227.5,215.0M219.8,213.3L227.5,215.0L222.8,221.4M233.1,223.3L256.0,218.0M248.5,215.3L256.0,218.0L250.4,223.8M260.4,223.3L284.5,221.0M277.2,217.2L284.5,221.0L278.1,226.1M289.6,223.3L314.5,224.0M307.5,219.2L314.5,224.0L307.3,228.4M316.8,223.3L341.5,225.5M334.9,220.3L341.5,225.5L334.1,229.5M346.1,223.3L370.0,227.0M363.9,221.5L370.0,227.0L362.5,230.4M92.3,252.8L108.4,239.0M101.3,240.0L108.4,239.0L106.4,245.9M119.7,252.8L137.5,239.9M130.0,240.3L137.5,239.9L134.8,246.9M149.1,252.8L168.1,240.5M160.4,240.5L168.1,240.5L164.9,247.5M176.3,252.8L197.5,243.5M189.8,242.2L197.5,243.5L193.2,250.1M205.8,252.8L228.4,245.9M220.7,243.7L228.4,245.9L223.2,252.1M233.1,252.8L256.0,250.4M249.0,246.8L256.0,250.4L249.9,255.3M260.4,252.8L284.5,252.5M277.6,248.1L284.5,252.5L277.7,257.1M289.6,252.8L314.5,254.6M307.8,249.5L314.5,254.6L307.1,258.7M316.8,252.8L341.5,257.0M335.2,251.2L341.5,257.0L333.7,260.4M346.1,252.8L371.5,258.5M365.3,252.2L371.5,258.5L363.2,261.6M92.3,283.2L108.4,270.5M101.5,271.2L108.4,270.5L106.2,277.1M119.7,283.2L137.5,270.5M130.1,270.8L137.5,270.5L134.8,277.4M149.1,283.2L168.4,272.0M160.8,271.6L168.4,272.0L165.0,278.8M176.3,283.2L197.5,276.5M190.2,274.5L197.5,276.5L192.7,282.3M205.8,283.2L227.5,281.0M220.9,277.6L227.5,281.0L221.7,285.7M233.1,283.2L255.4,282.5M248.9,278.6L255.4,282.5L249.2,286.9M260.4,283.2L283.6,285.5M277.4,280.5L283.6,285.5L276.6,289.2M289.6,283.2L313.0,288.5M307.3,282.7L313.0,288.5L305.4,291.3M316.8,283.2L340.9,290.0M335.3,283.6L340.9,290.0L332.8,292.5M346.1,283.2L370.0,291.5M364.8,284.7L370.0,291.5L361.7,293.6M92.3,309.8L109.0,296.9M101.9,297.5L109.0,296.9L106.6,303.7M119.7,309.8L137.5,299.0M130.4,298.8L137.5,299.0L134.4,305.4M149.1,309.8L168.4,301.1M161.3,300.0L168.4,301.1L164.5,307.2M176.3,309.8L196.6,305.0M189.9,302.6L196.6,305.0L191.7,310.1M205.8,309.8L226.9,308.9M220.7,305.3L226.9,308.9L221.0,313.1M233.1,309.8L254.5,310.1M248.5,306.1L254.5,310.1L248.3,314.0M260.4,309.8L281.5,312.5M276.0,307.8L281.5,312.5L275.0,315.7M289.6,309.8L311.5,315.5M306.3,309.8L311.5,315.5L304.2,317.9M316.8,309.8L340.0,317.0M334.7,310.7L340.0,317.0L332.1,319.3M346.1,309.8L368.5,318.5M363.8,311.9L368.5,318.5L360.5,320.2M513.9,141.5L516.5,147.5M516.9,145.0L516.5,147.5L514.4,146.1M541.1,141.5L546.5,146.6M545.9,144.2L546.5,146.6L544.0,146.1M570.5,141.5L579.5,144.5M577.5,142.0L579.5,144.5L576.4,145.3M597.9,141.5L609.5,143.6M606.6,140.8L609.5,143.6L605.8,145.2M625.1,141.5L638.6,143.6M635.2,140.5L638.6,143.6L634.4,145.5M513.9,169.5L516.5,176.6M517.1,174.1L516.5,176.6L514.4,175.1M541.1,169.5L548.0,177.5M547.5,174.0L548.0,177.5L544.6,176.5M570.5,169.5L581.0,176.6M579.4,172.6L581.0,176.6L576.7,176.5M597.9,169.5L611.0,175.4M608.4,171.3L611.0,175.4L606.2,176.2M625.1,169.5L639.5,174.5M636.4,170.4L639.5,174.5L634.5,175.7M541.1,198.4L548.6,210.5M548.7,205.7L548.6,210.5L544.2,208.4M570.5,198.4L581.0,210.5M580.3,205.1L581.0,210.5L575.8,209.0M597.9,198.4L611.0,209.0M609.2,203.5L611.0,209.0L605.3,208.4M625.1,198.4L639.5,207.5M637.1,202.2L639.5,207.5L633.7,207.6M373.4,223.3L400.4,225.5M393.1,219.9L400.4,225.5L392.3,229.9M570.5,223.3L579.5,237.5M579.6,231.8L579.5,237.5L574.3,235.1M597.9,223.3L609.5,237.5M608.8,231.3L609.5,237.5L603.6,235.6M625.1,223.3L638.6,234.5M636.9,228.8L638.6,234.5L632.7,233.8M373.4,252.8L396.5,258.5M391.0,252.6L396.5,258.5L388.9,261.2M400.8,252.8L423.5,257.0M417.8,251.6L423.5,257.0L416.2,260.0M597.9,252.8L603.5,252.5M601.4,251.3L603.5,252.5L601.5,254.0M625.1,252.8L636.5,263.0M635.2,258.0L636.5,263.0L631.4,262.2M373.4,283.2L396.5,291.5M391.5,284.9L396.5,291.5L388.4,293.4M400.8,283.2L423.5,291.5M418.6,284.9L423.5,291.5L415.5,293.4M430.1,283.2L452.9,289.4M447.6,283.4L452.9,289.4L445.3,291.9M457.4,283.2L479.0,287.0M473.6,281.9L479.0,287.0L472.2,289.9M486.7,283.2L495.5,280.4M492.5,279.6L495.5,280.4L493.5,282.8M541.1,283.2L546.5,285.5M545.1,283.4L546.5,285.5L544.1,285.9M570.5,283.2L580.4,280.4M577.1,279.4L580.4,280.4L578.1,283.0M597.9,283.2L608.6,281.0M605.1,279.6L608.6,281.0L606.0,283.6M625.1,283.2L638.0,282.5M634.2,280.3L638.0,282.5L634.5,285.1M373.4,309.8L396.5,317.0M391.3,310.7L396.5,317.0L388.6,319.2M400.8,309.8L422.0,317.0M417.3,311.0L422.0,317.0L414.6,318.9M430.1,309.8L452.0,316.4M447.0,310.5L452.0,316.4L444.6,318.6M457.4,309.8L478.4,315.5M473.5,310.0L478.4,315.5L471.4,317.8M486.7,309.8L506.0,314.0M501.3,309.2L506.0,314.0L499.7,316.4M513.9,309.8L533.0,311.6M527.9,307.6L533.0,311.6L527.2,314.6M541.1,309.8L558.5,310.1M553.6,306.8L558.5,310.1L553.5,313.2M570.5,309.8L587.0,308.6M582.1,305.9L587.0,308.6L582.5,312.0M597.9,309.8L612.5,308.6M608.1,306.2L612.5,308.6L608.6,311.7M625.1,309.8L638.6,308.6M634.6,306.5L638.6,308.6L635.0,311.5M654.5,141.5L671.1,142.0M666.5,138.8L671.1,142.0L666.3,144.9M681.7,141.5L699.4,138.6M693.8,136.1L699.4,138.6L694.9,142.7M711.1,141.5L722.1,134.9M717.7,134.8L722.1,134.9L720.2,138.8M738.1,141.5L744.7,133.5M741.4,134.6L744.7,133.5L744.3,137.0M765.2,141.5L773.0,136.3M769.8,136.3L773.0,136.3L771.8,139.2M794.5,141.5L815.5,132.1M807.8,130.9L815.5,132.1L811.3,138.6M821.6,141.5L843.8,135.8M836.4,133.3L843.8,135.8L838.5,141.5M851.0,141.5L876.3,136.9M868.2,133.5L876.3,136.9L870.0,142.9M878.0,141.5L901.8,136.9M894.2,133.8L901.8,136.9L895.9,142.6M654.5,169.5L672.6,173.1M668.1,168.8L672.6,173.1L666.7,175.4M681.7,169.5L701.7,171.1M696.3,167.0L701.7,171.1L695.7,174.4M711.1,169.5L732.0,168.3M725.8,164.8L732.0,168.3L726.3,172.5M738.1,169.5L758.9,166.0M752.3,163.2L758.9,166.0L753.6,170.9M765.2,169.5L786.6,164.6M779.6,162.1L786.6,164.6L781.4,170.0M794.5,169.5L816.9,165.2M809.7,162.3L816.9,165.2L811.3,170.6M821.6,169.5L845.2,166.0M837.8,162.7L845.2,166.0L839.1,171.4M851.0,169.5L874.9,166.0M867.5,162.6L874.9,166.0L868.7,171.5M878.0,169.5L902.7,166.0M895.0,162.5L902.7,166.0L896.3,171.6M654.5,198.4L672.6,205.7M668.8,200.3L672.6,205.7L666.1,206.9M681.7,198.4L701.7,203.7M697.0,198.5L701.7,203.7L695.0,205.9M711.1,198.4L732.0,201.4M726.6,196.7L732.0,201.4L725.5,204.4M738.1,198.4L759.4,200.0M753.7,195.6L759.4,200.0L753.1,203.5M765.2,198.4L787.2,198.6M781.0,194.5L787.2,198.6L780.9,202.6M794.5,198.4L816.9,198.0M810.5,194.0L816.9,198.0L810.6,202.3M821.6,198.4L844.4,198.0M837.8,193.9L844.4,198.0L837.9,202.3M851.0,198.4L874.4,198.0M867.6,193.8L874.4,198.0L867.8,202.5M878.0,198.4L901.8,198.0M895.0,193.7L901.8,198.0L895.1,202.5M654.5,223.3L671.7,233.1M668.6,227.1L671.7,233.1L665.0,233.5M681.7,223.3L700.0,232.6M696.5,226.5L700.0,232.6L693.1,233.3M711.1,223.3L730.6,229.7M726.2,224.3L730.6,229.7L723.8,231.5M738.1,223.3L756.6,228.3M752.3,223.5L756.6,228.3L750.4,230.3M765.2,223.3L785.8,226.3M780.5,221.7L785.8,226.3L779.3,229.3M794.5,223.3L816.1,224.6M810.2,220.3L816.1,224.6L809.7,228.2M821.6,223.3L843.8,224.1M837.6,219.7L843.8,224.1L837.3,228.0M851.0,223.3L872.7,223.5M866.5,219.4L872.7,223.5L866.4,227.5M878.0,223.3L899.8,223.5M893.6,219.4L899.8,223.5L893.6,227.5M654.5,252.8L668.9,264.3M666.9,258.3L668.9,264.3L662.7,263.6M681.7,252.8L698.0,261.4M695.0,255.9L698.0,261.4L691.8,262.0M711.1,252.8L729.2,259.4M725.2,254.2L729.2,259.4L722.8,260.9M738.1,252.8L756.6,258.0M752.3,253.1L756.6,258.0L750.4,260.0M765.2,252.8L784.9,255.8M779.8,251.3L784.9,255.8L778.7,258.6M794.5,252.8L814.9,255.8M809.7,251.1L814.9,255.8L808.6,258.7M821.6,252.8L843.2,254.6M837.4,250.1L843.2,254.6L836.7,258.1M851.0,252.8L872.7,254.6M866.8,250.1L872.7,254.6L866.1,258.1M878.0,252.8L898.1,254.6M892.7,250.4L898.1,254.6L892.1,257.8M654.5,283.2L668.9,289.2M665.9,284.8L668.9,289.2L663.7,290.1M681.7,283.2L696.6,291.4M693.9,286.3L696.6,291.4L690.8,291.8M711.1,283.2L728.3,290.6M724.8,285.3L728.3,290.6L722.0,291.7M738.1,283.2L756.0,289.7M752.2,284.6L756.0,289.7L749.7,291.2M765.2,283.2L784.4,287.8M779.7,282.9L784.4,287.8L778.0,290.0M794.5,283.2L813.2,286.9M808.6,282.4L813.2,286.9L807.2,289.3M821.6,283.2L841.5,286.3M836.4,281.8L841.5,286.3L835.3,289.1M851.0,283.2L869.8,286.9M865.1,282.3L869.8,286.9L863.8,289.3M878.0,283.2L897.0,286.3M892.2,281.9L897.0,286.3L891.0,289.0M654.5,309.8L669.7,311.8M665.8,308.4L669.7,311.8L665.0,314.0M681.7,309.8L696.6,314.6M693.3,310.5L696.6,314.6L691.5,316.0M711.1,309.8L732.0,314.6M726.9,309.4L732.0,314.6L725.1,317.1M738.1,309.8L754.6,314.6M750.8,310.2L754.6,314.6L749.0,316.3M765.2,309.8L782.1,314.1M778.1,309.7L782.1,314.1L776.5,316.0M794.5,309.8L811.2,314.1M807.3,309.8L811.2,314.1L805.7,315.9M821.6,309.8L838.1,314.1M834.2,309.8L838.1,314.1L832.6,315.9M851.0,309.8L867.9,314.1M863.8,309.7L867.9,314.1L862.2,316.0M878.0,309.8L896.2,311.8M891.4,307.9L896.2,311.8L890.6,314.6M92.3,336.5L109.0,326.0M102.3,325.9L109.0,326.0L106.2,332.1M119.7,336.5L137.5,328.4M130.9,327.4L137.5,328.4L133.9,334.0M149.1,336.5L167.5,331.4M161.3,329.4L167.5,331.4L163.2,336.3M176.3,336.5L194.5,333.5M188.8,331.0L194.5,333.5L189.9,337.7M205.8,336.5L224.5,337.4M219.3,333.7L224.5,337.4L219.0,340.6M233.1,336.5L251.5,339.5M246.8,335.2L251.5,339.5L245.7,342.1M260.4,336.5L279.4,341.6M274.9,336.6L279.4,341.6L273.0,343.7M289.6,336.5L308.5,344.0M304.5,338.4L308.5,344.0L301.7,345.4M316.8,336.5L336.4,345.5M332.5,339.3L336.4,345.5L329.1,346.6M346.1,336.5L365.5,346.4M361.8,340.0L365.5,346.4L358.2,347.2M92.3,363.7L109.0,355.4M102.7,354.7L109.0,355.4L105.8,360.9M119.7,363.7L136.6,357.5M130.6,356.1L136.6,357.5L132.9,362.4M149.1,363.7L166.6,360.5M161.0,358.2L166.6,360.5L162.2,364.7M176.3,363.7L193.6,362.0M188.4,359.3L193.6,362.0L189.0,365.7M205.8,363.7L223.6,365.0M218.8,361.3L223.6,365.0L218.3,367.9M233.1,363.7L250.6,367.4M246.3,363.1L250.6,367.4L244.9,369.6M260.4,363.7L277.6,368.6M273.6,364.0L277.6,368.6L271.8,370.4M289.6,363.7L306.4,371.6M303.1,366.2L306.4,371.6L300.2,372.5M316.8,363.7L333.4,374.0M330.6,368.0L333.4,374.0L326.8,374.2M346.1,363.7L361.6,375.5M359.4,369.3L361.6,375.5L355.0,375.0M92.3,390.7L108.4,383.6M102.5,382.7L108.4,383.6L105.1,388.6M119.7,390.7L135.4,387.5M130.3,385.5L135.4,387.5L131.5,391.3M149.1,390.7L165.4,389.6M160.5,386.9L165.4,389.6L160.9,392.9M176.3,390.7L192.4,391.4M188.0,388.2L192.4,391.4L187.7,394.2M205.8,390.7L222.4,392.6M218.0,389.0L222.4,392.6L217.3,395.1M233.1,390.7L249.4,394.4M245.4,390.3L249.4,394.4L244.1,396.4M260.4,390.7L276.4,395.0M272.6,390.8L276.4,395.0L271.0,396.8M289.6,390.7L305.5,397.4M302.2,392.5L305.5,397.4L299.7,398.4M316.8,390.7L331.6,399.5M329.0,394.2L331.6,399.5L325.8,399.8M346.1,390.7L360.4,401.0M358.3,395.4L360.4,401.0L354.4,400.7M92.3,419.6L107.5,413.6M102.1,412.5L107.5,413.6L104.3,418.1M119.7,419.6L134.5,415.4M129.5,413.9L134.5,415.4L131.0,419.4M149.1,419.6L164.5,417.5M159.7,415.2L164.5,417.5L160.5,421.0M176.3,419.6L191.5,419.0M187.1,416.4L191.5,419.0L187.3,422.0M205.8,419.6L221.5,419.6M217.0,416.7L221.5,419.6L217.0,422.5M233.1,419.6L248.5,420.5M244.3,417.4L248.5,420.5L243.9,423.1M260.4,419.6L275.5,420.5M271.4,417.4L275.5,420.5L271.0,423.1M289.6,419.6L305.5,419.6M301.0,416.7L305.5,419.6L301.0,422.6M316.8,419.6L330.4,425.0M327.5,420.9L330.4,425.0L325.5,426.0M346.1,419.6L360.4,426.5M357.6,421.9L360.4,426.5L355.1,427.2M92.3,447.7L106.6,442.4M101.6,441.3L106.6,442.4L103.5,446.6M119.7,447.7L133.6,444.5M129.0,442.8L133.6,444.5L130.2,448.0M149.1,447.7L163.6,446.0M159.1,443.8L163.6,446.0L159.8,449.2M176.3,447.7L190.6,446.6M186.3,444.3L190.6,446.6L186.7,449.6M205.8,447.7L220.6,446.6M216.2,444.2L220.6,446.6L216.6,449.7M233.1,447.7L247.6,447.5M243.4,444.9L247.6,447.5L243.5,450.3M260.4,447.7L274.6,441.5M269.4,440.6L274.6,441.5L271.7,445.9M289.6,447.7L303.4,444.5M298.9,442.9L303.4,444.5L300.1,448.0M316.8,447.7L329.5,452.0M326.7,448.4L329.5,452.0L325.1,453.1M346.1,447.7L359.5,452.0M356.5,448.3L359.5,452.0L354.9,453.3M92.3,477.3L106.6,472.4M101.6,471.2L106.6,472.4L103.4,476.4M119.7,477.3L133.6,473.6M128.9,472.1L133.6,473.6L130.3,477.3M149.1,477.3L163.6,475.4M159.1,473.3L163.6,475.4L159.8,478.6M176.3,477.3L190.0,475.4M185.8,473.4L190.0,475.4L186.5,478.5M205.8,477.3L219.4,474.5M215.0,472.8L219.4,474.5L216.0,477.8M233.1,477.3L246.4,474.5M242.1,472.8L246.4,474.5L243.1,477.8M260.4,477.3L272.5,470.0M267.7,469.8L272.5,470.0L270.4,474.3M289.6,477.3L302.5,474.5M298.3,472.9L302.5,474.5L299.4,477.7M316.8,477.3L328.6,479.6M325.7,476.8L328.6,479.6L324.8,481.2M346.1,477.3L358.6,480.5M355.7,477.3L358.6,480.5L354.5,481.9M373.4,336.5L394.4,347.0M390.4,340.1L394.4,347.0L386.5,347.9M400.8,336.5L421.4,347.6M417.6,340.6L421.4,347.6L413.5,348.3M430.1,336.5L450.5,347.0M446.6,340.2L450.5,347.0L442.8,347.8M457.4,336.5L477.5,346.4M473.6,339.9L477.5,346.4L470.0,347.3M486.7,336.5L506.6,343.4M502.2,337.7L506.6,343.4L499.7,345.1M513.9,336.5L533.0,341.6M528.5,336.6L533.0,341.6L526.6,343.7M541.1,336.5L558.5,340.4M554.3,336.1L558.5,340.4L552.8,342.5M570.5,336.5L588.5,338.0M583.7,334.2L588.5,338.0L583.1,340.9M597.9,336.5L614.0,337.4M609.6,334.1L614.0,337.4L609.2,340.1M625.1,336.5L640.4,337.4M636.2,334.3L640.4,337.4L635.9,340.0M373.4,363.7L389.0,376.4M386.9,369.9L389.0,376.4L382.2,375.7M400.8,363.7L416.6,375.5M414.3,369.2L416.6,375.5L409.9,375.1M430.1,363.7L446.0,374.6M443.5,368.6L446.0,374.6L439.5,374.4M457.4,363.7L473.6,373.4M470.8,367.6L473.6,373.4L467.2,373.6M486.7,363.7L503.0,371.6M499.8,366.3L503.0,371.6L496.9,372.4M513.9,363.7L530.6,370.4M527.1,365.4L530.6,370.4L524.6,371.6M541.1,363.7L557.6,368.6M553.8,364.2L557.6,368.6L552.0,370.3M570.5,363.7L586.4,366.5M582.4,362.8L586.4,366.5L581.4,368.6M597.9,363.7L613.4,365.0M609.2,361.7L613.4,365.0L608.7,367.5M625.1,363.7L639.5,363.5M635.4,360.9L639.5,363.5L635.5,366.2M373.4,390.7L386.6,401.0M384.8,395.6L386.6,401.0L380.9,400.5M400.8,390.7L413.6,401.0M411.8,395.7L413.6,401.0L408.0,400.4M430.1,390.7L443.6,400.4M441.6,395.1L443.6,400.4L438.0,400.1M457.4,390.7L470.6,399.5M468.5,394.6L470.6,399.5L465.2,399.4M486.7,390.7L500.0,398.6M497.7,393.9L500.0,398.6L494.8,398.8M513.9,390.7L527.6,397.4M524.9,392.9L527.6,397.4L522.4,398.0M541.1,390.7L554.6,396.5M551.9,392.4L554.6,396.5L549.7,397.3M570.5,390.7L584.0,394.4M580.9,390.9L584.0,394.4L579.5,395.8M597.9,390.7L611.6,391.4M607.8,388.7L611.6,391.4L607.6,393.8M625.1,390.7L638.6,389.6M634.6,387.4L638.6,389.6L635.0,392.4M373.4,419.6L386.6,425.6M384.0,421.5L386.6,425.6L381.7,426.3M400.8,419.6L413.6,425.6M411.1,421.5L413.6,425.6L408.8,426.3M430.1,419.6L443.6,425.0M440.8,421.0L443.6,425.0L438.8,426.0M457.4,419.6L470.6,425.0M467.9,421.0L470.6,425.0L465.9,425.9M486.7,419.6L500.0,425.0M497.2,421.0L500.0,425.0L495.2,425.9M513.9,419.6L527.0,423.5M524.0,420.0L527.0,423.5L522.5,424.8M541.1,419.6L554.0,423.5M551.1,420.0L554.0,423.5L549.6,424.8M570.5,419.6L583.4,421.4M580.1,418.5L583.4,421.4L579.4,423.3M597.9,419.6L611.0,419.6M607.3,417.2L611.0,419.6L607.3,422.0M625.1,419.6L638.0,418.4M634.1,416.4L638.0,418.4L634.6,421.1M373.4,447.7L386.6,452.6M383.8,448.8L386.6,452.6L381.9,453.6M400.8,447.7L413.6,452.6M410.8,448.8L413.6,452.6L409.0,453.6M430.1,447.7L442.4,452.6M439.8,448.9L442.4,452.6L438.0,453.5M457.4,447.7L470.0,452.6M467.3,448.9L470.0,452.6L465.5,453.5M486.7,447.7L499.4,452.6M496.7,448.9L499.4,452.6L494.9,453.6M513.9,447.7L526.4,452.6M523.7,448.9L526.4,452.6L521.9,453.5M541.1,447.7L553.4,452.0M550.7,448.5L553.4,452.0L549.1,453.1M570.5,447.7L583.4,450.5M580.3,447.3L583.4,450.5L579.2,452.1M597.9,447.7L611.0,449.0M607.5,446.2L611.0,449.0L607.0,451.1M625.1,447.7L638.0,447.5M634.3,445.2L638.0,447.5L634.4,450.0M373.4,477.3L386.6,482.6M383.8,478.7L386.6,482.6L381.9,483.5M400.8,477.3L412.4,482.6M410.1,478.9L412.4,482.6L408.1,483.3M430.1,477.3L441.5,482.0M439.1,478.6L441.5,482.0L437.4,482.8M457.4,477.3L469.4,482.0M466.9,478.5L469.4,482.0L465.1,482.9M486.7,477.3L498.5,482.6M496.1,478.9L498.5,482.6L494.2,483.3M513.9,477.3L525.5,482.0M523.1,478.5L525.5,482.0L521.3,482.8M541.1,477.3L553.4,480.5M550.5,477.3L553.4,480.5L549.3,481.9M570.5,477.3L582.5,479.0M579.4,476.3L582.5,479.0L578.8,480.7M597.9,477.3L610.4,477.5M606.9,475.1L610.4,477.5L606.8,479.8M625.1,477.3L637.4,476.6M633.8,474.5L637.4,476.6L634.1,479.1M654.5,336.5L669.7,337.6M665.6,334.4L669.7,337.6L665.2,340.1M681.7,336.5L697.2,338.9M693.3,335.3L697.2,338.9L692.4,341.1M711.1,336.5L727.8,340.3M723.7,336.1L727.8,340.3L722.3,342.3M738.1,336.5L754.8,340.3M750.7,336.1L754.8,340.3L749.3,342.3M765.2,336.5L780.9,339.4M777.0,335.7L780.9,339.4L775.9,341.5M794.5,336.5L810.6,339.4M806.6,335.6L810.6,339.4L805.5,341.6M821.6,336.5L838.5,339.4M834.2,335.5L838.5,339.4L833.1,341.7M851.0,336.5L869.0,339.4M864.4,335.3L869.0,339.4L863.3,341.9M878.0,336.5L896.5,338.9M891.7,334.8L896.5,338.9L890.8,341.6M654.5,363.7L668.4,361.9M664.1,359.8L668.4,361.9L664.8,364.9M681.7,363.7L696.2,362.7M691.8,360.3L696.2,362.7L692.2,365.6M711.1,363.7L726.4,363.7M722.0,360.9L726.4,363.7L722.0,366.6M738.1,363.7L754.8,363.7M750.0,360.7L754.8,363.7L750.0,366.8M765.2,363.7L780.4,363.7M776.1,360.9L780.4,363.7L776.1,366.5M794.5,363.7L810.6,363.7M806.1,360.7L810.6,363.7L806.0,366.7M821.6,363.7L838.5,363.7M833.7,360.6L838.5,363.7L833.6,366.8M851.0,363.7L869.0,364.6M864.0,361.0L869.0,364.6L863.7,367.6M878.0,363.7L896.5,365.4M891.5,361.5L896.5,365.4L890.9,368.3M654.5,390.7L668.4,388.9M664.1,386.8L668.4,388.9L664.8,391.9M681.7,390.7L695.4,389.7M691.3,387.4L695.4,389.7L691.7,392.5M711.1,390.7L725.9,390.7M721.7,388.0L725.9,390.7L721.6,393.5M738.1,390.7L752.9,390.7M748.7,388.0L752.9,390.7L748.7,393.5M765.2,390.7L780.4,390.7M776.1,387.9L780.4,390.7L776.1,393.5M794.5,390.7L810.6,390.7M806.1,387.7L810.6,390.7L806.0,393.7M821.6,390.7L838.5,391.6M833.8,388.2L838.5,391.6L833.5,394.4M851.0,390.7L868.2,392.4M863.6,388.7L868.2,392.4L862.9,395.1M878.0,390.7L896.0,392.9M891.2,388.9L896.0,392.9L890.4,395.6M654.5,419.6L667.5,417.7M663.5,415.9L667.5,417.7L664.2,420.7M681.7,419.6L695.4,417.2M691.0,415.4L695.4,417.2L691.9,420.4M711.1,419.6L725.1,416.7M720.5,414.9L725.1,416.7L721.6,420.1M738.1,419.6L751.2,415.9M746.8,414.5L751.2,415.9L748.2,419.3M765.2,419.6L779.9,415.9M775.0,414.2L779.9,415.9L776.4,419.6M794.5,419.6L809.6,417.2M804.8,415.1L809.6,417.2L805.7,420.7M821.6,419.6L837.6,417.7M832.7,415.3L837.6,417.7L833.4,421.2M851.0,419.6L867.3,418.6M862.5,415.8L867.3,418.6L862.9,421.9M878.0,419.6L896.0,419.4M890.8,416.1L896.0,419.4L890.9,422.8M654.5,447.7L667.0,445.6M663.1,443.9L667.0,445.6L663.8,448.5M681.7,447.7L694.5,444.7M690.3,443.2L694.5,444.7L691.4,448.0M711.1,447.7L724.2,444.2M719.8,442.8L724.2,444.2L721.1,447.6M738.1,447.7L751.2,443.7M746.8,442.4L751.2,443.7L748.3,447.2M765.2,447.7L779.1,443.7M774.4,442.2L779.1,443.7L775.8,447.4M794.5,447.7L809.6,444.7M804.7,442.8L809.6,444.7L805.8,448.4M821.6,447.7L837.6,445.6M832.7,443.2L837.6,445.6L833.5,449.1M851.0,447.7L867.3,444.2M862.0,442.2L867.3,444.2L863.3,448.2M878.0,447.7L896.0,443.7M890.1,441.5L896.0,443.7L891.6,448.1M654.5,477.3L667.0,476.1M663.2,474.1L667.0,476.1L663.7,478.7M681.7,477.3L694.5,476.1M690.6,474.0L694.5,476.1L691.1,478.8M711.1,477.3L724.2,475.3M720.1,473.4L724.2,475.3L720.9,478.3M738.1,477.3L751.2,473.9M746.9,472.4L751.2,473.9L748.1,477.3M765.2,477.3L779.1,472.6M774.2,471.3L779.1,472.6L776.0,476.5M794.5,477.3L806.9,471.7M802.3,471.0L806.9,471.7L804.4,475.6M821.6,477.3L834.9,472.6M830.3,471.4L834.9,472.6L832.0,476.4M851.0,477.3L864.6,471.2M859.6,470.4L864.6,471.2L861.9,475.5M878.0,477.3L893.3,471.2M887.8,470.1L893.3,471.2L890.0,475.8M92.3,507.1L105.4,501.4M100.6,500.6L105.4,501.4L102.7,505.4M119.7,507.1L133.0,503.5M128.5,502.1L133.0,503.5L129.9,507.0M149.1,507.1L162.4,504.4M158.1,502.7L162.4,504.4L159.1,507.6M176.3,507.1L189.4,503.5M185.0,502.1L189.4,503.5L186.4,506.9M205.8,507.1L218.5,502.6M214.0,501.5L218.5,502.6L215.7,506.2M233.1,507.1L245.5,502.0M241.0,501.1L245.5,502.0L242.9,505.8M260.4,507.1L271.6,499.6M267.0,499.7L271.6,499.6L269.8,503.8M289.6,507.1L302.5,503.5M298.2,502.1L302.5,503.5L299.5,506.9M316.8,507.1L328.6,510.4M325.8,507.3L328.6,510.4L324.6,511.7M346.1,507.1L358.6,511.0M355.8,507.6L358.6,511.0L354.3,512.2M92.3,532.0L105.4,527.5M100.8,526.4L105.4,527.5L102.5,531.2M119.7,532.0L132.4,528.4M128.1,527.1L132.4,528.4L129.4,531.8M149.1,532.0L162.4,529.6M158.2,527.8L162.4,529.6L159.0,532.8M176.3,532.0L189.4,529.6M185.2,527.9L189.4,529.6L186.1,532.7M205.8,532.0L218.5,528.4M214.2,527.1L218.5,528.4L215.5,531.8M233.1,532.0L245.5,527.5M241.1,526.5L245.5,527.5L242.8,531.1M260.4,532.0L271.6,526.0M267.3,525.6L271.6,526.0L269.5,529.8M289.6,532.0L301.6,529.6M297.8,528.1L301.6,529.6L298.6,532.5M316.8,532.0L328.6,535.6M325.9,532.4L328.6,535.6L324.6,536.8M346.1,532.0L357.4,537.4M355.2,533.8L357.4,537.4L353.2,538.0M92.3,562.8L104.5,559.0M100.3,557.8L104.5,559.0L101.7,562.3M119.7,562.8L131.5,560.5M127.7,559.0L131.5,560.5L128.5,563.4M149.1,562.8L161.5,561.4M157.7,559.5L161.5,561.4L158.2,564.1M176.3,562.8L188.5,561.4M184.8,559.6L188.5,561.4L185.3,564.1M205.8,562.8L217.6,561.4M214.0,559.6L217.6,561.4L214.5,564.0M233.1,562.8L244.0,560.5M240.5,559.1L244.0,560.5L241.3,563.2M260.4,562.8L271.0,560.5M267.6,559.2L271.0,560.5L268.4,563.1M289.6,562.8L301.0,562.6M297.7,560.5L301.0,562.6L297.8,564.8M316.8,562.8L327.4,566.5M325.1,563.5L327.4,566.5L323.7,567.4M346.1,562.8L356.5,568.6M354.6,565.0L356.5,568.6L352.5,568.9M92.3,589.0L104.5,585.4M100.4,584.2L104.5,585.4L101.7,588.7M119.7,589.0L131.5,586.6M127.7,585.1L131.5,586.6L128.6,589.5M149.1,589.0L160.6,587.5M157.0,585.8L160.6,587.5L157.6,590.1M176.3,589.0L187.6,588.4M184.3,586.5L187.6,588.4L184.5,590.7M205.8,589.0L217.0,588.4M213.7,586.5L217.0,588.4L213.9,590.7M233.1,589.0L244.0,589.0M240.9,587.0L244.0,589.0L240.9,591.0M260.4,589.0L271.0,589.0M268.0,587.0L271.0,589.0L268.0,591.0M289.6,589.0L301.0,589.0M297.8,586.9L301.0,589.0L297.8,591.1M316.8,589.0L327.4,592.6M325.0,589.6L327.4,592.6L323.7,593.6M346.1,589.0L356.5,595.0M354.7,591.4L356.5,595.0L352.5,595.2M92.3,620.5L103.6,617.5M99.8,616.3L103.6,617.5L100.9,620.4M119.7,620.5L130.6,618.4M127.1,617.0L130.6,618.4L127.9,621.0M149.1,620.5L160.0,619.6M156.7,617.8L160.0,619.6L157.0,621.9M176.3,620.5L187.6,620.5M184.4,618.4L187.6,620.5L184.4,622.6M205.8,620.5L216.4,621.4M213.5,619.2L216.4,621.4L213.2,623.1M233.1,620.5L243.4,621.4M240.6,619.2L243.4,621.4L240.3,623.1M260.4,620.5L270.4,622.0M267.8,619.7L270.4,622.0L267.3,623.4M289.6,620.5L300.4,622.0M297.6,619.6L300.4,622.0L297.1,623.6M316.8,620.5L327.4,624.4M325.1,621.3L327.4,624.4L323.7,625.3M346.1,620.5L355.6,626.5M354.0,623.0L355.6,626.5L351.8,626.6M92.3,647.4L103.6,644.5M99.9,643.3L103.6,644.5L100.9,647.4M119.7,647.4L130.6,646.0M127.2,644.4L130.6,646.0L127.7,648.4M149.1,647.4L160.0,647.5M156.9,645.5L160.0,647.5L156.9,649.5M176.3,647.4L187.6,648.4M184.6,646.0L187.6,648.4L184.2,650.2M205.8,647.4L216.4,649.6M213.8,647.0L216.4,649.6L213.0,651.0M233.1,647.4L243.4,649.6M240.9,647.1L243.4,649.6L240.0,650.9M260.4,647.4L270.4,650.5M268.1,647.8L270.4,650.5L267.0,651.5M289.6,647.4L300.4,650.5M297.9,647.6L300.4,650.5L296.8,651.6M316.8,647.4L326.5,652.6M324.7,649.3L326.5,652.6L322.8,652.9M346.1,647.4L355.0,654.4M353.8,650.8L355.0,654.4L351.2,654.1M373.4,507.1L385.4,511.6M382.8,508.1L385.4,511.6L381.2,512.5M400.8,507.1L412.4,512.5M410.1,508.8L412.4,512.5L408.1,513.1M430.1,507.1L441.5,512.5M439.3,508.9L441.5,512.5L437.3,513.1M457.4,507.1L469.4,512.5M467.0,508.7L469.4,512.5L465.0,513.2M486.7,507.1L498.5,512.5M496.1,508.8L498.5,512.5L494.1,513.1M513.9,507.1L526.4,511.6M523.7,508.0L526.4,511.6L522.0,512.6M541.1,507.1L553.4,509.5M550.4,506.5L553.4,509.5L549.5,511.1M570.5,507.1L583.4,507.4M579.8,504.9L583.4,507.4L579.7,509.7M597.9,507.1L611.0,506.5M607.2,504.2L611.0,506.5L607.4,509.1M625.1,507.1L637.4,506.5M633.8,504.4L637.4,506.5L634.0,508.9M373.4,532.0L385.4,537.4M383.0,533.7L385.4,537.4L381.0,538.1M400.8,532.0L411.5,537.4M409.4,533.9L411.5,537.4L407.4,537.9M430.1,532.0L441.5,537.4M439.3,533.8L441.5,537.4L437.3,538.0M457.4,532.0L469.4,536.5M466.8,533.0L469.4,536.5L465.2,537.4M486.7,532.0L498.5,536.5M496.0,533.0L498.5,536.5L494.3,537.4M513.9,532.0L526.4,534.4M523.3,531.4L526.4,534.4L522.4,536.0M541.1,532.0L553.4,532.6M550.0,530.2L553.4,532.6L549.8,534.7M570.5,532.0L582.5,531.4M579.0,529.4L582.5,531.4L579.2,533.8M597.9,532.0L610.4,530.5M606.6,528.6L610.4,530.5L607.1,533.3M625.1,532.0L636.5,530.5M633.0,528.8L636.5,530.5L633.6,533.0M373.4,562.8L384.5,569.5M382.6,565.5L384.5,569.5L380.1,569.6M400.8,562.8L411.5,568.6M409.5,565.0L411.5,568.6L407.4,568.9M430.1,562.8L441.5,566.5M439.0,563.3L441.5,566.5L437.6,567.6M457.4,562.8L469.4,564.4M466.3,561.7L469.4,564.4L465.7,566.2M486.7,562.8L498.5,563.5M495.3,561.1L498.5,563.5L495.0,565.5M513.9,562.8L525.5,559.6M521.6,558.4L525.5,559.6L522.8,562.7M541.1,562.8L552.5,558.4M548.5,557.6L552.5,558.4L550.1,561.8M570.5,562.8L581.6,560.5M578.0,559.1L581.6,560.5L578.9,563.2M597.9,562.8L608.6,561.4M605.3,559.8L608.6,561.4L605.8,563.8M625.1,562.8L635.0,562.0M632.1,560.4L635.0,562.0L632.4,564.1M373.4,589.0L384.5,595.0M382.5,591.3L384.5,595.0L380.2,595.3M400.8,589.0L411.5,594.4M409.4,590.9L411.5,594.4L407.4,594.9M430.1,589.0L442.4,590.5M439.2,587.8L442.4,590.5L438.6,592.3M457.4,589.0L469.4,589.6M466.1,587.2L469.4,589.6L465.9,591.7M486.7,589.0L498.5,584.5M494.3,583.6L498.5,584.5L496.0,588.0M513.9,589.0L524.0,581.5M519.7,581.8L524.0,581.5L522.5,585.5M541.1,589.0L551.0,583.6M547.2,583.3L551.0,583.6L549.2,587.0M570.5,589.0L581.0,584.5M577.2,583.9L581.0,584.5L578.9,587.7M597.9,589.0L607.4,586.6M604.3,585.5L607.4,586.6L605.1,589.1M625.1,589.0L634.4,587.5M631.5,586.2L634.4,587.5L632.1,589.7M373.4,620.5L383.0,627.4M381.6,623.7L383.0,627.4L379.0,627.2M400.8,620.5L411.5,623.5M409.0,620.7L411.5,623.5L407.9,624.6M430.1,620.5L442.4,619.0M438.6,617.2L442.4,619.0L439.2,621.7M457.4,620.5L468.5,618.4M465.0,617.0L468.5,618.4L465.7,621.1M486.7,620.5L496.4,613.0M492.3,613.3L496.4,613.0L495.0,616.9M513.9,620.5L523.4,612.4M519.2,612.9L523.4,612.4L522.2,616.5M541.1,620.5L550.4,613.6M546.5,613.9L550.4,613.6L549.1,617.3M570.5,620.5L580.4,617.5M577.1,616.5L580.4,617.5L578.2,620.2M597.9,620.5L607.4,620.5M604.7,618.7L607.4,620.5L604.7,622.3M625.1,620.5L633.5,619.6M631.0,618.3L633.5,619.6L631.3,621.4M373.4,647.4L383.6,654.4M382.0,650.5L383.6,654.4L379.4,654.3M400.8,647.4L411.5,651.4M409.2,648.3L411.5,651.4L407.7,652.3M430.1,647.4L441.5,645.4M437.9,643.9L441.5,645.4L438.6,648.1M457.4,647.4L468.5,642.4M464.4,641.8L468.5,642.4L466.3,645.9M486.7,647.4L494.6,637.6M490.5,638.9L494.6,637.6L494.2,641.9M513.9,647.4L522.5,639.4M518.6,640.1L522.5,639.4L521.5,643.3M541.1,647.4L550.4,641.5M546.7,641.5L550.4,641.5L548.9,644.9M570.5,647.4L580.4,645.4M577.2,644.2L580.4,645.4L578.0,647.8M597.9,647.4L607.4,648.4M604.9,646.4L607.4,648.4L604.5,649.9M625.1,647.4L633.5,643.0M630.3,642.7L633.5,643.0L632.0,645.8M654.5,507.1L667.0,506.7M663.4,504.5L667.0,506.7L663.5,509.1M681.7,507.1L693.5,507.6M690.2,505.2L693.5,507.6L690.0,509.6M711.1,507.1L722.4,506.7M719.1,504.8L722.4,506.7L719.2,508.9M738.1,507.1L749.4,503.5M745.5,502.5L749.4,503.5L746.8,506.6M765.2,507.1L775.0,499.5M770.8,499.8L775.0,499.5L773.6,503.4M794.5,507.1L803.4,497.6M799.1,498.7L803.4,497.6L802.6,501.9M821.6,507.1L833.1,502.2M828.9,501.4L833.1,502.2L830.7,505.7M851.0,507.1L863.6,501.3M858.9,500.6L863.6,501.3L861.0,505.3M878.0,507.1L891.6,499.5M886.3,499.1L891.6,499.5L889.2,504.2M654.5,532.0L665.7,531.0M662.3,529.3L665.7,531.0L662.7,533.4M681.7,532.0L692.7,531.9M689.5,529.9L692.7,531.9L689.6,533.9M711.1,532.0L722.4,531.9M719.1,529.8L722.4,531.9L719.2,534.0M738.1,532.0L748.5,531.0M745.4,529.4L748.5,531.0L745.8,533.2M765.2,532.0L771.8,521.9M768.0,523.5L771.8,521.9L771.8,526.0M794.5,532.0L799.3,520.2M795.8,522.7L799.3,520.2L800.1,524.5M821.6,532.0L826.6,532.0M824.5,530.6L826.6,532.0L824.5,533.4M851.0,532.0L861.4,524.6M857.0,524.7L861.4,524.6L859.8,528.6M878.0,532.0L889.8,522.9M884.7,523.3L889.8,522.9L888.1,527.7M654.5,562.8L664.8,562.9M661.9,561.0L664.8,562.9L661.9,564.8M681.7,562.8L691.3,565.1M689.0,562.6L691.3,565.1L688.1,566.2M711.1,562.8L719.7,567.0M718.0,564.2L719.7,567.0L716.4,567.3M738.1,562.8L745.8,568.8M744.8,565.7L745.8,568.8L742.5,568.5M765.2,562.8L766.9,550.8M764.2,553.9L766.9,550.8L768.6,554.5M794.5,562.8L796.6,549.4M793.5,552.8L796.6,549.4L798.5,553.6M821.6,562.8L825.0,548.9M821.4,552.2L825.0,548.9L826.6,553.5M851.0,562.8L856.0,549.4M852.1,552.3L856.0,549.4L857.0,554.2M878.0,562.8L887.9,551.6M883.0,552.9L887.9,551.6L887.1,556.6M654.5,589.0L663.8,590.4M661.4,588.3L663.8,590.4L660.9,591.7M681.7,589.0L690.0,592.1M688.2,589.7L690.0,592.1L687.0,592.7M711.1,589.0L717.0,594.0M716.2,591.5L717.0,594.0L714.4,593.6M765.2,589.0L764.7,579.6M763.1,582.4L764.7,579.6L766.6,582.2M794.5,589.0L796.1,575.9M793.2,579.3L796.1,575.9L798.1,579.9M821.6,589.0L826.3,575.9M822.5,578.7L826.3,575.9L827.4,580.5M851.0,589.0L856.5,576.4M852.6,579.0L856.5,576.4L857.3,581.0M878.0,589.0L887.9,579.1M883.2,580.1L887.9,579.1L886.9,583.7M654.5,620.5L663.0,621.8M660.8,619.8L663.0,621.8L660.3,623.0M738.1,620.5L739.6,624.5M740.2,622.1L739.6,624.5L737.6,623.0M765.2,620.5L764.7,611.0M763.1,613.8L764.7,611.0L766.6,613.6M794.5,620.5L796.1,609.3M793.6,612.2L796.1,609.3L797.7,612.8M821.6,620.5L824.1,608.8M821.2,611.7L824.1,608.8L825.6,612.6M851.0,620.5L853.3,608.8M850.5,611.7L853.3,608.8L854.8,612.6M878.0,620.5L887.1,612.9M883.1,613.4L887.1,612.9L885.9,616.7M654.5,647.4L661.1,641.7M658.2,642.1L661.1,641.7L660.3,644.6M681.7,647.4L689.1,646.1M686.8,645.1L689.1,646.1L687.3,647.8M711.1,647.4L717.0,648.0M715.0,646.4L717.0,648.0L714.7,649.1M738.1,647.4L744.0,646.1M741.6,645.2L744.0,646.1L742.2,647.9M765.2,647.4L766.9,641.7M765.0,643.4L766.9,641.7L767.6,644.1M821.6,647.4L818.6,644.4M819.1,646.8L818.6,644.4L821.0,644.9M851.0,647.4L849.3,635.8M847.6,639.4L849.3,635.8L851.9,638.8M878.0,647.4L872.2,655.2M875.3,654.1L872.2,655.2L872.4,651.9" stroke="#0000ff" stroke-width="2.2" fill="none" stroke-linecap="butt" stroke-linejoin="round"/>
<rect x="90.2" y="141.5" width="812.5" height="523.0" fill="none" stroke="#333" stroke-width="0.8"/>
<path d="M90.2,141.5H902.7V664.5H90.2Z" fill="none" stroke="#000" stroke-width="2" stroke-dasharray="2 4"/>
<rect x="894.2" y="130.5" width="17" height="6.6" fill="#fff"/><text x="902.7" y="135.8" text-anchor="middle" font-family="DejaVu Sans, sans-serif" font-size="6" fill="#222">52°W</text><rect x="894.2" y="668.5" width="17" height="6.6" fill="#fff"/><text x="902.7" y="673.8" text-anchor="middle" font-family="DejaVu Sans, sans-serif" font-size="6" fill="#222">52°W</text><rect x="869.5" y="130.5" width="17" height="6.6" fill="#fff"/><text x="878.0" y="135.8" text-anchor="middle" font-family="DejaVu Sans, sans-serif" font-size="6" fill="#222">53°W</text><rect x="869.5" y="668.5" width="17" height="6.6" fill="#fff"/><text x="878.0" y="673.8" text-anchor="middle" font-family="DejaVu Sans, sans-serif" font-size="6" fill="#222">53°W</text><rect x="844.9" y="130.5" width="17" height="6.6" fill="#fff"/><text x="853.4" y="135.8" text-anchor="middle" font-family="DejaVu Sans, sans-serif" font-size="6" fill="#222">54°W</text><rect x="844.9" y="668.5" width="17" height="6.6" fill="#fff"/><text x="853.4" y="673.8" text-anchor="middle" font-family="DejaVu Sans, sans-serif" font-size="6" fill="#222">54°W</text><rect x="820.3" y="130.5" width="17" height="6.6" fill="#fff"/><text x="828.8" y="135.8" text-anchor="middle" font-family="DejaVu Sans, sans-serif" font-size="6" fill="#222">55°W</text><rect x="820.3" y="668.5" width="17" height="6.6" fill="#fff"/><text x="828.8" y="673.8" text-anchor="middle" font-family="DejaVu Sans, sans-serif" font-size="6" fill="#222">55°W</text><rect x="795.7" y="130.5" width="17" height="6.6" fill="#fff"/><text x="804.2" y="135.8" text-anchor="middle" font-family="DejaVu Sans, sans-serif" font-size="6" fill="#222">56°W</text><rect x="795.7" y="668.5" width="17" height="6.6" fill="#fff"/><text x="804.2" y="673.8" text-anchor="middle" font-family="DejaVu Sans, sans-serif" font-size="6" fill="#222">56°W</text><rect x="771.1" y="130.5" width="17" height="6.6" fill="#fff"/><text x="779.6" y="135.8" text-anchor="middle" font-family="DejaVu Sans, sans-serif" font-size="6" fill="#222">57°W</text><rect x="771.1" y="668.5" width="17" height="6.6" fill="#fff"/><text x="779.6" y="673.8" text-anchor="middle" font-family="DejaVu Sans, sans-serif" font-size="6" fill="#222">57°W</text><rect x="746.4" y="130.5" width="17" height="6.6" fill="#fff"/><text x="754.9" y="135.8" text-anchor="middle" font-family="DejaVu Sans, sans-serif" font-size="6" fill="#222">58°W</text><rect x="746.4" y="668.5" width="17" height="6.6" fill="#fff"/><text x="754.9" y="673.8" text-anchor="middle" font-family="DejaVu Sans, sans-serif" font-size="6" fill="#222">58°W</text><rect x="721.8" y="130.5" width="17" height="6.6" fill="#fff"/><text x="730.3" y="135.8" text-anchor="middle" font-family="DejaVu Sans, sans-serif" font-size="6" fill="#222">59°W</text><rect x="721.8" y="668.5" width="17" height="6.6" fill="#fff"/><text x="730.3" y="673.8" text-anchor="middle" font-family="DejaVu Sans, sans-serif" font-size="6" fill="#222">59°W</text><rect x="697.2" y="130.5" width="17" height="6.6" fill="#fff"/><text x="705.7" y="135.8" text-anchor="middle" font-family="DejaVu Sans, sans-serif" font-size="6" fill="#222">60°W</text><rect x="697.2" y="668.5" width="17" height="6.6" fill="#fff"/><text x="705.7" y="673.8" text-anchor="middle" font-family="DejaVu Sans, sans-serif" font-size="6" fill="#222">60°W</text><rect x="672.6" y="130.5" width="17" height="6.6" fill="#fff"/><text x="681.1" y="135.8" text-anchor="middle" font-family="DejaVu Sans, sans-serif" font-size="6" fill="#222">61°W</text><rect x="672.6" y="668.5" width="17" height="6.6" fill="#fff"/><text x="681.1" y="673.8" text-anchor="middle" font-family="DejaVu Sans, sans-serif" font-size="6" fill="#222">61°W</text><rect x="648.0" y="130.5" width="17" height="6.6" fill="#fff"/><text x="656.5" y="135.8" text-anchor="middle" font-family="DejaVu Sans, sans-serif" font-size="6" fill="#222">62°W</text><rect x="648.0" y="668.5" width="17" height="6.6" fill="#fff"/><text x="656.5" y="673.8" text-anchor="middle" font-family="DejaVu Sans, sans-serif" font-size="6" fill="#222">62°W</text><rect x="623.3" y="130.5" width="17" height="6.6" fill="#fff"/><text x="631.8" y="135.8" text-anchor="middle" font-family="DejaVu Sans, sans-serif" font-size="6" fill="#222">63°W</text><rect x="623.3" y="668.5" width="17" height="6.6" fill="#fff"/><text x="631.8" y="673.8" text-anchor="middle" font-family="DejaVu Sans, sans-serif" font-size="6" fill="#222">63°W</text><rect x="598.7" y="130.5" width="17" height="6.6" fill="#fff"/><text x="607.2" y="135.8" text-anchor="middle" font-family="DejaVu Sans, sans-serif" font-size="6" fill="#222">64°W</text><rect x="598.7" y="668.5" width="17" height="6.6" fill="#fff"/><text x="607.2" y="673.8" text-anchor="middle" font-family="DejaVu Sans, sans-serif" font-size="6" fill="#222">64°W</text><rect x="574.1" y="130.5" width="17" height="6.6" fill="#fff"/><text x="582.6" y="135.8" text-anchor="middle" font-family="DejaVu Sans, sans-serif" font-size="6" fill="#222">65°W</text><rect x="574.1" y="668.5" width="17" height="6.6" fill="#fff"/><text x="582.6" y="673.8" text-anchor="middle" font-family="DejaVu Sans, sans-serif" font-size="6" fill="#222">65°W</text><rect x="549.5" y="130.5" width="17" height="6.6" fill="#fff"/><text x="558.0" y="135.8" text-anchor="middle" font-family="DejaVu Sans, sans-serif" font-size="6" fill="#222">66°W</text><rect x="549.5" y="668.5" width="17" height="6.6" fill="#fff"/><text x="558.0" y="673.8" text-anchor="middle" font-family="DejaVu Sans, sans-serif" font-size="6" fill="#222">66°W</text><rect x="524.9" y="130.5" width="17" height="6.6" fill="#fff"/><text x="533.4" y="135.8" text-anchor="middle" font-family="DejaVu Sans, sans-serif" font-size="6" fill="#222">67°W</text><rect x="524.9" y="668.5" width="17" height="6.6" fill="#fff"/><text x="533.4" y="673.8" text-anchor="middle" font-family="DejaVu Sans, sans-serif" font-size="6" fill="#222">67°W</text><rect x="500.2" y="130.5" width="17" height="6.6" fill="#fff"/><text x="508.7" y="135.8" text-anchor="middle" font-family="DejaVu Sans, sans-serif" font-size="6" fill="#222">68°W</text><rect x="500.2" y="668.5" width="17" height="6.6" fill="#fff"/><text x="508.7" y="673.8" text-anchor="middle" font-family="DejaVu Sans, sans-serif" font-size="6" fill="#222">68°W</text><rect x="475.6" y="130.5" width="17" height="6.6" fill="#fff"/><text x="484.1" y="135.8" text-anchor="middle" font-family="DejaVu Sans, sans-serif" font-size="6" fill="#222">69°W</text><rect x="475.6" y="668.5" width="17" height="6.6" fill="#fff"/><text x="484.1" y="673.8" text-anchor="middle" font-family="DejaVu Sans, sans-serif" font-size="6" fill="#222">69°W</text><rect x="451.0" y="130.5" width="17" height="6.6" fill="#fff"/><text x="459.5" y="135.8" text-anchor="middle" font-family="DejaVu Sans, sans-serif" font-size="6" fill="#222">70°W</text><rect x="451.0" y="668.5" width="17" height="6.6" fill="#fff"/><text x="459.5" y="673.8" text-anchor="middle" font-family="DejaVu Sans, sans-serif" font-size="6" fill="#222">70°W</text><rect x="426.4" y="130.5" width="17" height="6.6" fill="#fff"/><text x="434.9" y="135.8" text-anchor="middle" font-family="DejaVu Sans, sans-serif" font-size="6" fill="#222">71°W</text><rect x="426.4" y="668.5" width="17" height="6.6" fill="#fff"/><text x="434.9" y="673.8" text-anchor="middle" font-family="DejaVu Sans, sans-serif" font-size="6" fill="#222">71°W</text><rect x="401.8" y="130.5" width="17" height="6.6" fill="#fff"/><text x="410.3" y="135.8" text-anchor="middle" font-family="DejaVu Sans, sans-serif" font-size="6" fill="#222">72°W</text><rect x="401.8" y="668.5" width="17" height="6.6" fill="#fff"/><text x="410.3" y="673.8" text-anchor="middle" font-family="DejaVu Sans, sans-serif" font-size="6" fill="#222">72°W</text><rect x="377.1" y="130.5" width="17" height="6.6" fill="#fff"/><text x="385.6" y="135.8" text-anchor="middle" font-family="DejaVu Sans, sans-serif" font-size="6" fill="#222">73°W</text><rect x="377.1" y="668.5" width="17" height="6.6" fill="#fff"/><text x="385.6" y="673.8" text-anchor="middle" font-family="DejaVu Sans, sans-serif" font-size="6" fill="#222">73°W</text><rect x="352.5" y="130.5" width="17" height="6.6" fill="#fff"/><text x="361.0" y="135.8" text-anchor="middle" font-family="DejaVu Sans, sans-serif" font-size="6" fill="#222">74°W</text><rect x="352.5" y="668.5" width="17" height="6.6" fill="#fff"/><text x="361.0" y="673.8" text-anchor="middle" font-family="DejaVu Sans, sans-serif" font-size="6" fill="#222">74°W</text><rect x="327.9" y="130.5" width="17" height="6.6" fill="#fff"/><text x="336.4" y="135.8" text-anchor="middle" font-family="DejaVu Sans, sans-serif" font-size="6" fill="#222">75°W</text><rect x="327.9" y="668.5" width="17" height="6.6" fill="#fff"/><text x="336.4" y="673.8" text-anchor="middle" font-family="DejaVu Sans, sans-serif" font-size="6" fill="#222">75°W</text><rect x="303.3" y="130.5" width="17" height="6.6" fill="#fff"/><text x="311.8" y="135.8" text-anchor="middle" font-family="DejaVu Sans, sans-serif" font-size="6" fill="#222">76°W</text><rect x="303.3" y="668.5" width="17" height="6.6" fill="#fff"/><text x="311.8" y="673.8" text-anchor="middle" font-family="DejaVu Sans, sans-serif" font-size="6" fill="#222">76°W</text><rect x="278.7" y="130.5" width="17" height="6.6" fill="#fff"/><text x="287.2" y="135.8" text-anchor="middle" font-family="DejaVu Sans, sans-serif" font-size="6" fill="#222">77°W</text><rect x="278.7" y="668.5" width="17" height="6.6" fill="#fff"/><text x="287.2" y="673.8" text-anchor="middle" font-family="DejaVu Sans, sans-serif" font-size="6" fill="#222">77°W</text><rect x="254.0" y="130.5" width="17" height="6.6" fill="#fff"/><text x="262.5" y="135.8" text-anchor="middle" font-family="DejaVu Sans, sans-serif" font-size="6" fill="#222">78°W</text><rect x="254.0" y="668.5" width="17" height="6.6" fill="#fff"/><text x="262.5" y="673.8" text-anchor="middle" font-family="DejaVu Sans, sans-serif" font-size="6" fill="#222">78°W</text><rect x="229.4" y="130.5" width="17" height="6.6" fill="#fff"/><text x="237.9" y="135.8" text-anchor="middle" font-family="DejaVu Sans, sans-serif" font-size="6" fill="#222">79°W</text><rect x="229.4" y="668.5" width="17" height="6.6" fill="#fff"/><text x="237.9" y="673.8" text-anchor="middle" font-family="DejaVu Sans, sans-serif" font-size="6" fill="#222">79°W</text><rect x="204.8" y="130.5" width="17" height="6.6" fill="#fff"/><text x="213.3" y="135.8" text-anchor="middle" font-family="DejaVu Sans, sans-serif" font-size="6" fill="#222">80°W</text><rect x="204.8" y="668.5" width="17" height="6.6" fill="#fff"/><text x="213.3" y="673.8" text-anchor="middle" font-family="DejaVu Sans, sans-serif" font-size="6" fill="#222">80°W</text><rect x="180.2" y="130.5" width="17" height="6.6" fill="#fff"/><text x="188.7" y="135.8" text-anchor="middle" font-family="DejaVu Sans, sans-serif" font-size="6" fill="#222">81°W</text><rect x="180.2" y="668.5" width="17" height="6.6" fill="#fff"/><text x="188.7" y="673.8" text-anchor="middle" font-family="DejaVu Sans, sans-serif" font-size="6" fill="#222">81°W</text><rect x="155.6" y="130.5" width="17" height="6.6" fill="#fff"/><text x="164.1" y="135.8" text-anchor="middle" font-family="DejaVu Sans, sans-serif" font-size="6" fill="#222">82°W</text><rect x="155.6" y="668.5" width="17" height="6.6" fill="#fff"/><text x="164.1" y="673.8" text-anchor="middle" font-family="DejaVu Sans, sans-serif" font-size="6" fill="#222">82°W</text><rect x="130.9" y="130.5" width="17" height="6.6" fill="#fff"/><text x="139.4" y="135.8" text-anchor="middle" font-family="DejaVu Sans, sans-serif" font-size="6" fill="#222">83°W</text><rect x="130.9" y="668.5" width="17" height="6.6" fill="#fff"/><text x="139.4" y="673.8" text-anchor="middle" font-family="DejaVu Sans, sans-serif" font-size="6" fill="#222">83°W</text><rect x="106.3" y="130.5" width="17" height="6.6" fill="#fff"/><text x="114.8" y="135.8" text-anchor="middle" font-family="DejaVu Sans, sans-serif" font-size="6" fill="#222">84°W</text><rect x="106.3" y="668.5" width="17" height="6.6" fill="#fff"/><text x="114.8" y="673.8" text-anchor="middle" font-family="DejaVu Sans, sans-serif" font-size="6" fill="#222">84°W</text><rect x="81.7" y="130.5" width="17" height="6.6" fill="#fff"/><text x="90.2" y="135.8" text-anchor="middle" font-family="DejaVu Sans, sans-serif" font-size="6" fill="#222">85°W</text><rect x="81.7" y="668.5" width="17" height="6.6" fill="#fff"/><text x="90.2" y="673.8" text-anchor="middle" font-family="DejaVu Sans, sans-serif" font-size="6" fill="#222">85°W</text><text x="86.8" y="171.6" text-anchor="end" font-family="DejaVu Sans, sans-serif" font-size="6" fill="#222">53°S</text><text x="905.8" y="171.6" font-family="DejaVu Sans, sans-serif" font-size="6" fill="#222">53°S</text><text x="86.8" y="213.0" text-anchor="end" font-family="DejaVu Sans, sans-serif" font-size="6" fill="#222">54°S</text><text x="905.8" y="213.0" font-family="DejaVu Sans, sans-serif" font-size="6" fill="#222">54°S</text><text x="86.8" y="255.4" text-anchor="end" font-family="DejaVu Sans, sans-serif" font-size="6" fill="#222">55°S</text><text x="905.8" y="255.4" font-family="DejaVu Sans, sans-serif" font-size="6" fill="#222">55°S</text><text x="86.8" y="298.9" text-anchor="end" font-family="DejaVu Sans, sans-serif" font-size="6" fill="#222">56°S</text><text x="905.8" y="298.9" font-family="DejaVu Sans, sans-serif" font-size="6" fill="#222">56°S</text><text x="86.8" y="343.5" text-anchor="end" font-family="DejaVu Sans, sans-serif" font-size="6" fill="#222">57°S</text><text x="905.8" y="343.5" font-family="DejaVu Sans, sans-serif" font-size="6" fill="#222">57°S</text><text x="86.8" y="389.3" text-anchor="end" font-family="DejaVu Sans, sans-serif" font-size="6" fill="#222">58°S</text><text x="905.8" y="389.3" font-family="DejaVu Sans, sans-serif" font-size="6" fill="#222">58°S</text><text x="86.8" y="436.4" text-anchor="end" font-family="DejaVu Sans, sans-serif" font-size="6" fill="#222">59°S</text><text x="905.8" y="436.4" font-family="DejaVu Sans, sans-serif" font-size="6" fill="#222">59°S</text><text x="86.8" y="484.9" text-anchor="end" font-family="DejaVu Sans, sans-serif" font-size="6" fill="#222">60°S</text><text x="905.8" y="484.9" font-family="DejaVu Sans, sans-serif" font-size="6" fill="#222">60°S</text><text x="86.8" y="534.9" text-anchor="end" font-family="DejaVu Sans, sans-serif" font-size="6" fill="#222">61°S</text><text x="905.8" y="534.9" font-family="DejaVu Sans, sans-serif" font-size="6" fill="#222">61°S</text><text x="86.8" y="586.5" text-anchor="end" font-family="DejaVu Sans, sans-serif" font-size="6" fill="#222">62°S</text><text x="905.8" y="586.5" font-family="DejaVu Sans, sans-serif" font-size="6" fill="#222">62°S</text><text x="86.8" y="639.9" text-anchor="end" font-family="DejaVu Sans, sans-serif" font-size="6" fill="#222">63°S</text><text x="905.8" y="639.9" font-family="DejaVu Sans, sans-serif" font-size="6" fill="#222">63°S</text>
<rect x="60.20" y="684.2" width="82.13" height="18.0" fill="#c8dcfa"/>
<rect x="142.03" y="684.2" width="82.13" height="18.0" fill="#0a6eff"/>
<rect x="223.85" y="684.2" width="82.13" height="18.0" fill="#78a5ff"/>
<rect x="305.68" y="684.2" width="82.13" height="18.0" fill="#1eff00"/>
<rect x="387.51" y="684.2" width="82.13" height="18.0" fill="#ffff00"/>
<rect x="469.34" y="684.2" width="82.13" height="18.0" fill="#ffd700"/>
<rect x="551.16" y="684.2" width="82.13" height="18.0" fill="#ffa500"/>
<rect x="632.99" y="684.2" width="82.13" height="18.0" fill="#ff7800"/>
<rect x="714.82" y="684.2" width="82.13" height="18.0" fill="#ff0000"/>
<rect x="796.65" y="684.2" width="82.13" height="18.0" fill="#641000"/>
<rect x="878.47" y="684.2" width="82.13" height="18.0" fill="#333333"/>
<path d="M142.03,684.2V702.2" stroke="#333" stroke-width="0.8"/>
<path d="M223.85,684.2V702.2" stroke="#333" stroke-width="0.8"/>
<path d="M305.68,684.2V702.2" stroke="#333" stroke-width="0.8"/>
<path d="M387.51,684.2V702.2" stroke="#333" stroke-width="0.8"/>
<path d="M469.34,684.2V702.2" stroke="#333" stroke-width="0.8"/>
<path d="M551.16,684.2V702.2" stroke="#333" stroke-width="0.8"/>
<path d="M632.99,684.2V702.2" stroke="#333" stroke-width="0.8"/>
<path d="M714.82,684.2V702.2" stroke="#333" stroke-width="0.8"/>
<path d="M796.65,684.2V702.2" stroke="#333" stroke-width="0.8"/>
<path d="M878.47,684.2V702.2" stroke="#333" stroke-width="0.8"/>
<rect x="60.2" y="684.2" width="900.1" height="18.0" fill="none" stroke="#111" stroke-width="1.0" rx="1"/>
<text x="60.20" y="676.6" text-anchor="middle" font-family="DejaVu Sans, sans-serif" font-weight="bold" font-size="9.5" fill="#0000ff">0</text>
<text x="142.03" y="676.6" text-anchor="middle" font-family="DejaVu Sans, sans-serif" font-weight="bold" font-size="9.5" fill="#0000ff">0.5</text>
<text x="223.85" y="676.6" text-anchor="middle" font-family="DejaVu Sans, sans-serif" font-weight="bold" font-size="9.5" fill="#0000ff">1</text>
<text x="305.68" y="676.6" text-anchor="middle" font-family="DejaVu Sans, sans-serif" font-weight="bold" font-size="9.5" fill="#0000ff">2</text>
<text x="387.51" y="676.6" text-anchor="middle" font-family="DejaVu Sans, sans-serif" font-weight="bold" font-size="9.5" fill="#0000ff">3</text>
<text x="469.34" y="676.6" text-anchor="middle" font-family="DejaVu Sans, sans-serif" font-weight="bold" font-size="9.5" fill="#0000ff">4</text>
<text x="551.16" y="676.6" text-anchor="middle" font-family="DejaVu Sans, sans-serif" font-weight="bold" font-size="9.5" fill="#0000ff">6</text>
<text x="632.99" y="676.6" text-anchor="middle" font-family="DejaVu Sans, sans-serif" font-weight="bold" font-size="9.5" fill="#0000ff">8</text>
<text x="714.82" y="676.6" text-anchor="middle" font-family="DejaVu Sans, sans-serif" font-weight="bold" font-size="9.5" fill="#0000ff">10</text>
<text x="796.65" y="676.6" text-anchor="middle" font-family="DejaVu Sans, sans-serif" font-weight="bold" font-size="9.5" fill="#0000ff">12</text>
<text x="878.47" y="676.6" text-anchor="middle" font-family="DejaVu Sans, sans-serif" font-weight="bold" font-size="9.5" fill="#0000ff">14</text>
<text x="960.30" y="676.6" text-anchor="middle" font-family="DejaVu Sans, sans-serif" font-weight="bold" font-size="9.5" fill="#0000ff">20</text>
</svg></body></html>
